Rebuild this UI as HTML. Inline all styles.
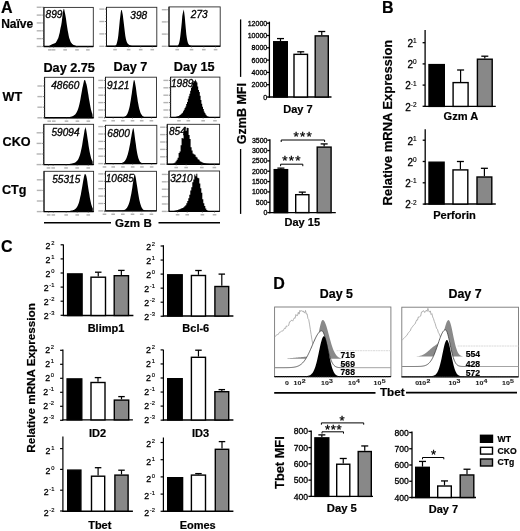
<!DOCTYPE html>
<html><head><meta charset="utf-8"><style>
html,body{margin:0;padding:0;background:#fff;}
svg{display:block;filter:blur(0.35px);}
</style></head><body>
<svg width="520" height="531" viewBox="0 0 520 531">
<rect width="520" height="531" fill="#fff"/>
<g font-family='"Liberation Sans", sans-serif' stroke="none">
<text x="1.00" y="13.00" font-size="16" font-weight="bold" font-style="normal" text-anchor="start" fill="#000" stroke="#000" stroke-width="0.2" >A</text>
<text x="1.20" y="28.40" font-size="12" font-weight="bold" font-style="normal" text-anchor="start" fill="#000" stroke="#000" stroke-width="0.2" >Na&#239;ve</text>
<text x="2.50" y="100.70" font-size="12.6" font-weight="bold" font-style="normal" text-anchor="start" fill="#000" stroke="#000" stroke-width="0.2" >WT</text>
<text x="2.60" y="145.70" font-size="12.6" font-weight="bold" font-style="normal" text-anchor="start" fill="#000" stroke="#000" stroke-width="0.2" >CKO</text>
<text x="2.00" y="194.30" font-size="12.6" font-weight="bold" font-style="normal" text-anchor="start" fill="#000" stroke="#000" stroke-width="0.2" >CTg</text>
<text x="69.20" y="71.60" font-size="12.7" font-weight="bold" font-style="normal" text-anchor="middle" fill="#000" stroke="#000" stroke-width="0.2" >Day 2.75</text>
<text x="130.50" y="71.40" font-size="12.7" font-weight="bold" font-style="normal" text-anchor="middle" fill="#000" stroke="#000" stroke-width="0.2" >Day 7</text>
<text x="194.20" y="71.40" font-size="12.7" font-weight="bold" font-style="normal" text-anchor="middle" fill="#000" stroke="#000" stroke-width="0.2" >Day 15</text>
<path d="M44.70,46.50 L44.70,46.45 L45.20,46.44 L45.70,46.43 L46.20,46.41 L46.70,46.37 L47.20,46.33 L47.70,46.27 L48.20,46.17 L48.70,46.04 L49.20,45.86 L49.70,45.63 L50.20,45.37 L50.70,45.07 L51.20,44.76 L51.70,44.51 L52.20,44.15 L52.70,43.95 L53.20,43.85 L53.70,43.66 L54.20,43.50 L54.70,43.24 L55.20,42.90 L55.70,42.63 L56.20,42.09 L56.70,41.12 L57.20,40.34 L57.70,39.11 L58.20,38.17 L58.70,36.43 L59.20,34.47 L59.70,32.82 L60.20,29.84 L60.70,27.20 L61.20,25.34 L61.70,22.20 L62.20,17.90 L62.70,13.42 L63.20,10.82 L63.70,8.80 L64.20,9.30 L64.70,12.07 L65.20,14.26 L65.70,16.93 L66.20,20.19 L66.70,23.98 L67.20,27.29 L67.70,30.40 L68.20,33.01 L68.70,35.63 L69.20,37.88 L69.70,39.25 L70.20,40.80 L70.70,41.89 L71.20,42.86 L71.70,43.35 L72.20,43.88 L72.70,44.37 L73.20,44.63 L73.70,44.90 L74.20,45.14 L74.70,45.37 L75.20,45.57 L75.70,45.76 L76.20,45.93 L76.70,46.08 L77.20,46.20 L77.70,46.29 L78.20,46.36 L78.70,46.41 L79.20,46.44 L79.70,46.47 L80.20,46.48 L80.70,46.49 L81.20,46.49 L81.70,46.50 L82.20,46.50 L82.70,46.50 L83.20,46.50 L83.70,46.50 L84.20,46.50 L84.70,46.50 L85.20,46.50 L85.70,46.50 L86.20,46.50 L86.70,46.50 L87.20,46.50 L87.70,46.50 L88.20,46.50 L88.70,46.50 L89.20,46.50 L89.70,46.50 L90.20,46.50 L90.70,46.50 L91.20,46.50 L91.70,46.50 L92.20,46.50 L92.50,46.50 Z" fill="#000" stroke="none" stroke-width="0" />
<rect x="43.90" y="7.40" width="49.40" height="39.10" fill="none" stroke="#2a2a2a" stroke-width="0.9"/>
<line x1="43.90" y1="7.40" x2="43.90" y2="46.50" stroke="#111" stroke-width="1.0" />
<line x1="43.60" y1="46.50" x2="93.30" y2="46.50" stroke="#000" stroke-width="1.4" />
<line x1="42.30" y1="46.50" x2="43.90" y2="46.50" stroke="#444" stroke-width="0.7" />
<rect x="36.70" y="45.80" width="5.00" height="1.40" fill="#b4b4b4" stroke="none" stroke-width="0"/>
<line x1="42.30" y1="38.65" x2="43.90" y2="38.65" stroke="#444" stroke-width="0.7" />
<rect x="36.70" y="37.95" width="5.00" height="1.40" fill="#b4b4b4" stroke="none" stroke-width="0"/>
<line x1="42.30" y1="30.80" x2="43.90" y2="30.80" stroke="#444" stroke-width="0.7" />
<rect x="36.70" y="30.10" width="5.00" height="1.40" fill="#b4b4b4" stroke="none" stroke-width="0"/>
<line x1="42.30" y1="22.95" x2="43.90" y2="22.95" stroke="#444" stroke-width="0.7" />
<rect x="36.70" y="22.25" width="5.00" height="1.40" fill="#b4b4b4" stroke="none" stroke-width="0"/>
<line x1="42.30" y1="15.10" x2="43.90" y2="15.10" stroke="#444" stroke-width="0.7" />
<rect x="36.70" y="14.40" width="5.00" height="1.40" fill="#b4b4b4" stroke="none" stroke-width="0"/>
<line x1="42.30" y1="7.25" x2="43.90" y2="7.25" stroke="#444" stroke-width="0.7" />
<rect x="36.70" y="6.55" width="5.00" height="1.40" fill="#b4b4b4" stroke="none" stroke-width="0"/>
<line x1="43.00" y1="46.50" x2="43.90" y2="46.50" stroke="#666" stroke-width="0.5" />
<line x1="43.00" y1="44.54" x2="43.90" y2="44.54" stroke="#666" stroke-width="0.5" />
<line x1="43.00" y1="42.58" x2="43.90" y2="42.58" stroke="#666" stroke-width="0.5" />
<line x1="43.00" y1="40.61" x2="43.90" y2="40.61" stroke="#666" stroke-width="0.5" />
<line x1="43.00" y1="38.65" x2="43.90" y2="38.65" stroke="#666" stroke-width="0.5" />
<line x1="43.00" y1="36.69" x2="43.90" y2="36.69" stroke="#666" stroke-width="0.5" />
<line x1="43.00" y1="34.73" x2="43.90" y2="34.73" stroke="#666" stroke-width="0.5" />
<line x1="43.00" y1="32.76" x2="43.90" y2="32.76" stroke="#666" stroke-width="0.5" />
<line x1="43.00" y1="30.80" x2="43.90" y2="30.80" stroke="#666" stroke-width="0.5" />
<line x1="43.00" y1="28.84" x2="43.90" y2="28.84" stroke="#666" stroke-width="0.5" />
<line x1="43.00" y1="26.88" x2="43.90" y2="26.88" stroke="#666" stroke-width="0.5" />
<line x1="43.00" y1="24.91" x2="43.90" y2="24.91" stroke="#666" stroke-width="0.5" />
<line x1="43.00" y1="22.95" x2="43.90" y2="22.95" stroke="#666" stroke-width="0.5" />
<line x1="43.00" y1="20.99" x2="43.90" y2="20.99" stroke="#666" stroke-width="0.5" />
<line x1="43.00" y1="19.03" x2="43.90" y2="19.03" stroke="#666" stroke-width="0.5" />
<line x1="43.00" y1="17.06" x2="43.90" y2="17.06" stroke="#666" stroke-width="0.5" />
<line x1="43.00" y1="15.10" x2="43.90" y2="15.10" stroke="#666" stroke-width="0.5" />
<line x1="43.00" y1="13.14" x2="43.90" y2="13.14" stroke="#666" stroke-width="0.5" />
<line x1="43.00" y1="11.18" x2="43.90" y2="11.18" stroke="#666" stroke-width="0.5" />
<line x1="43.00" y1="9.21" x2="43.90" y2="9.21" stroke="#666" stroke-width="0.5" />
<line x1="49.83" y1="46.50" x2="49.83" y2="47.80" stroke="#555" stroke-width="0.6" />
<rect x="48.03" y="49.10" width="3.60" height="1.50" fill="#b4b4b4" stroke="none" stroke-width="0"/>
<line x1="53.58" y1="46.50" x2="53.58" y2="47.80" stroke="#555" stroke-width="0.6" />
<rect x="51.78" y="49.10" width="3.60" height="1.50" fill="#b4b4b4" stroke="none" stroke-width="0"/>
<line x1="65.14" y1="46.50" x2="65.14" y2="47.80" stroke="#555" stroke-width="0.6" />
<rect x="63.34" y="49.10" width="3.60" height="1.50" fill="#b4b4b4" stroke="none" stroke-width="0"/>
<line x1="77.00" y1="46.50" x2="77.00" y2="47.80" stroke="#555" stroke-width="0.6" />
<rect x="75.20" y="49.10" width="3.60" height="1.50" fill="#b4b4b4" stroke="none" stroke-width="0"/>
<line x1="87.87" y1="46.50" x2="87.87" y2="47.80" stroke="#555" stroke-width="0.6" />
<rect x="86.07" y="49.10" width="3.60" height="1.50" fill="#b4b4b4" stroke="none" stroke-width="0"/>
<text x="45.60" y="18.40" font-size="10.1" font-weight="normal" font-style="italic" text-anchor="start" fill="#000" stroke="#000" stroke-width="0.3" >899</text>
<path d="M107.30,46.30 L107.30,46.30 L107.80,46.30 L108.30,46.30 L108.80,46.30 L109.30,46.30 L109.80,46.30 L110.30,46.30 L110.80,46.30 L111.30,46.30 L111.80,46.30 L112.30,46.30 L112.80,46.29 L113.30,46.28 L113.80,46.26 L114.30,46.20 L114.80,46.08 L115.30,45.84 L115.80,45.40 L116.30,44.63 L116.80,43.30 L117.30,41.35 L117.80,38.96 L118.30,35.43 L118.80,30.40 L119.30,25.41 L119.80,20.29 L120.30,16.22 L120.80,12.05 L121.30,10.06 L121.80,10.00 L122.30,12.51 L122.80,15.02 L123.30,19.15 L123.80,23.23 L124.30,27.53 L124.80,31.82 L125.30,35.65 L125.80,38.45 L126.30,40.55 L126.80,42.06 L127.30,43.07 L127.80,43.70 L128.30,44.24 L128.80,44.61 L129.30,44.92 L129.80,45.18 L130.30,45.40 L130.80,45.59 L131.30,45.75 L131.80,45.88 L132.30,45.98 L132.80,46.07 L133.30,46.13 L133.80,46.18 L134.30,46.22 L134.80,46.24 L135.30,46.26 L135.80,46.28 L136.30,46.28 L136.80,46.29 L137.30,46.29 L137.80,46.30 L138.30,46.30 L138.80,46.30 L139.30,46.30 L139.80,46.30 L140.30,46.30 L140.80,46.30 L141.30,46.30 L141.80,46.30 L142.30,46.30 L142.80,46.30 L143.30,46.30 L143.80,46.30 L144.30,46.30 L144.80,46.30 L145.30,46.30 L145.80,46.30 L146.30,46.30 L146.80,46.30 L147.30,46.30 L147.80,46.30 L148.30,46.30 L148.80,46.30 L149.30,46.30 L149.80,46.30 L150.30,46.30 L150.80,46.30 L151.30,46.30 L151.80,46.30 L152.30,46.30 L152.80,46.30 L153.30,46.30 L153.80,46.30 L154.30,46.30 L154.80,46.30 L155.30,46.30 L155.80,46.30 L156.00,46.30 Z" fill="#000" stroke="none" stroke-width="0" />
<rect x="106.50" y="7.30" width="50.30" height="39.00" fill="none" stroke="#2a2a2a" stroke-width="0.9"/>
<line x1="106.50" y1="7.30" x2="106.50" y2="46.30" stroke="#111" stroke-width="1.0" />
<line x1="106.20" y1="46.30" x2="156.80" y2="46.30" stroke="#000" stroke-width="1.4" />
<line x1="104.90" y1="46.30" x2="106.50" y2="46.30" stroke="#444" stroke-width="0.7" />
<rect x="99.30" y="45.60" width="5.00" height="1.40" fill="#b4b4b4" stroke="none" stroke-width="0"/>
<line x1="104.90" y1="33.90" x2="106.50" y2="33.90" stroke="#444" stroke-width="0.7" />
<rect x="99.30" y="33.20" width="5.00" height="1.40" fill="#b4b4b4" stroke="none" stroke-width="0"/>
<line x1="104.90" y1="21.50" x2="106.50" y2="21.50" stroke="#444" stroke-width="0.7" />
<rect x="99.30" y="20.80" width="5.00" height="1.40" fill="#b4b4b4" stroke="none" stroke-width="0"/>
<line x1="104.90" y1="9.10" x2="106.50" y2="9.10" stroke="#444" stroke-width="0.7" />
<rect x="99.30" y="8.40" width="5.00" height="1.40" fill="#b4b4b4" stroke="none" stroke-width="0"/>
<line x1="105.60" y1="46.30" x2="106.50" y2="46.30" stroke="#666" stroke-width="0.5" />
<line x1="105.60" y1="43.20" x2="106.50" y2="43.20" stroke="#666" stroke-width="0.5" />
<line x1="105.60" y1="40.10" x2="106.50" y2="40.10" stroke="#666" stroke-width="0.5" />
<line x1="105.60" y1="37.00" x2="106.50" y2="37.00" stroke="#666" stroke-width="0.5" />
<line x1="105.60" y1="33.90" x2="106.50" y2="33.90" stroke="#666" stroke-width="0.5" />
<line x1="105.60" y1="30.80" x2="106.50" y2="30.80" stroke="#666" stroke-width="0.5" />
<line x1="105.60" y1="27.70" x2="106.50" y2="27.70" stroke="#666" stroke-width="0.5" />
<line x1="105.60" y1="24.60" x2="106.50" y2="24.60" stroke="#666" stroke-width="0.5" />
<line x1="105.60" y1="21.50" x2="106.50" y2="21.50" stroke="#666" stroke-width="0.5" />
<line x1="105.60" y1="18.40" x2="106.50" y2="18.40" stroke="#666" stroke-width="0.5" />
<line x1="105.60" y1="15.30" x2="106.50" y2="15.30" stroke="#666" stroke-width="0.5" />
<line x1="105.60" y1="12.20" x2="106.50" y2="12.20" stroke="#666" stroke-width="0.5" />
<line x1="105.60" y1="9.10" x2="106.50" y2="9.10" stroke="#666" stroke-width="0.5" />
<line x1="115.05" y1="46.30" x2="115.05" y2="47.60" stroke="#555" stroke-width="0.6" />
<rect x="113.25" y="48.90" width="3.60" height="1.50" fill="#b4b4b4" stroke="none" stroke-width="0"/>
<line x1="128.63" y1="46.30" x2="128.63" y2="47.60" stroke="#555" stroke-width="0.6" />
<rect x="126.83" y="48.90" width="3.60" height="1.50" fill="#b4b4b4" stroke="none" stroke-width="0"/>
<line x1="140.70" y1="46.30" x2="140.70" y2="47.60" stroke="#555" stroke-width="0.6" />
<rect x="138.90" y="48.90" width="3.60" height="1.50" fill="#b4b4b4" stroke="none" stroke-width="0"/>
<line x1="152.27" y1="46.30" x2="152.27" y2="47.60" stroke="#555" stroke-width="0.6" />
<rect x="150.47" y="48.90" width="3.60" height="1.50" fill="#b4b4b4" stroke="none" stroke-width="0"/>
<text x="130.30" y="19.40" font-size="10.1" font-weight="normal" font-style="italic" text-anchor="start" fill="#000" stroke="#000" stroke-width="0.3" >398</text>
<path d="M169.80,46.30 L169.80,46.30 L170.30,46.30 L170.80,46.30 L171.30,46.30 L171.80,46.30 L172.30,46.30 L172.80,46.30 L173.30,46.30 L173.80,46.30 L174.30,46.30 L174.80,46.30 L175.30,46.29 L175.80,46.27 L176.30,46.24 L176.80,46.15 L177.30,45.99 L177.80,45.66 L178.30,45.05 L178.80,44.04 L179.30,42.31 L179.80,39.87 L180.30,36.30 L180.80,31.85 L181.30,27.34 L181.80,22.19 L182.30,15.88 L182.80,13.13 L183.30,11.13 L183.80,9.60 L184.30,13.31 L184.80,17.21 L185.30,23.37 L185.80,28.82 L186.30,34.20 L186.80,37.80 L187.30,40.57 L187.80,42.57 L188.30,43.73 L188.80,44.49 L189.30,44.98 L189.80,45.30 L190.30,45.53 L190.80,45.71 L191.30,45.86 L191.80,45.98 L192.30,46.07 L192.80,46.14 L193.30,46.19 L193.80,46.23 L194.30,46.25 L194.80,46.27 L195.30,46.28 L195.80,46.29 L196.30,46.29 L196.80,46.30 L197.30,46.30 L197.80,46.30 L198.30,46.30 L198.80,46.30 L199.30,46.30 L199.80,46.30 L200.30,46.30 L200.80,46.30 L201.30,46.30 L201.80,46.30 L202.30,46.30 L202.80,46.30 L203.30,46.30 L203.80,46.30 L204.30,46.30 L204.80,46.30 L205.30,46.30 L205.80,46.30 L206.30,46.30 L206.80,46.30 L207.30,46.30 L207.80,46.30 L208.30,46.30 L208.80,46.30 L209.30,46.30 L209.80,46.30 L210.30,46.30 L210.80,46.30 L211.30,46.30 L211.80,46.30 L212.30,46.30 L212.80,46.30 L213.30,46.30 L213.80,46.30 L214.30,46.30 L214.80,46.30 L215.30,46.30 L215.80,46.30 L216.30,46.30 L216.80,46.30 L217.30,46.30 L217.80,46.30 L218.30,46.30 L218.80,46.30 L219.30,46.30 L219.40,46.30 Z" fill="#000" stroke="none" stroke-width="0" />
<rect x="169.00" y="6.90" width="51.20" height="39.40" fill="none" stroke="#2a2a2a" stroke-width="0.9"/>
<line x1="169.00" y1="6.90" x2="169.00" y2="46.30" stroke="#111" stroke-width="1.0" />
<line x1="168.70" y1="46.30" x2="220.20" y2="46.30" stroke="#000" stroke-width="1.4" />
<line x1="167.40" y1="46.30" x2="169.00" y2="46.30" stroke="#444" stroke-width="0.7" />
<rect x="161.80" y="45.60" width="5.00" height="1.40" fill="#b4b4b4" stroke="none" stroke-width="0"/>
<line x1="167.40" y1="34.10" x2="169.00" y2="34.10" stroke="#444" stroke-width="0.7" />
<rect x="161.80" y="33.40" width="5.00" height="1.40" fill="#b4b4b4" stroke="none" stroke-width="0"/>
<line x1="167.40" y1="21.90" x2="169.00" y2="21.90" stroke="#444" stroke-width="0.7" />
<rect x="161.80" y="21.20" width="5.00" height="1.40" fill="#b4b4b4" stroke="none" stroke-width="0"/>
<line x1="167.40" y1="9.70" x2="169.00" y2="9.70" stroke="#444" stroke-width="0.7" />
<rect x="161.80" y="9.00" width="5.00" height="1.40" fill="#b4b4b4" stroke="none" stroke-width="0"/>
<line x1="168.10" y1="46.30" x2="169.00" y2="46.30" stroke="#666" stroke-width="0.5" />
<line x1="168.10" y1="43.25" x2="169.00" y2="43.25" stroke="#666" stroke-width="0.5" />
<line x1="168.10" y1="40.20" x2="169.00" y2="40.20" stroke="#666" stroke-width="0.5" />
<line x1="168.10" y1="37.15" x2="169.00" y2="37.15" stroke="#666" stroke-width="0.5" />
<line x1="168.10" y1="34.10" x2="169.00" y2="34.10" stroke="#666" stroke-width="0.5" />
<line x1="168.10" y1="31.05" x2="169.00" y2="31.05" stroke="#666" stroke-width="0.5" />
<line x1="168.10" y1="28.00" x2="169.00" y2="28.00" stroke="#666" stroke-width="0.5" />
<line x1="168.10" y1="24.95" x2="169.00" y2="24.95" stroke="#666" stroke-width="0.5" />
<line x1="168.10" y1="21.90" x2="169.00" y2="21.90" stroke="#666" stroke-width="0.5" />
<line x1="168.10" y1="18.85" x2="169.00" y2="18.85" stroke="#666" stroke-width="0.5" />
<line x1="168.10" y1="15.80" x2="169.00" y2="15.80" stroke="#666" stroke-width="0.5" />
<line x1="168.10" y1="12.75" x2="169.00" y2="12.75" stroke="#666" stroke-width="0.5" />
<line x1="168.10" y1="9.70" x2="169.00" y2="9.70" stroke="#666" stroke-width="0.5" />
<line x1="177.19" y1="46.30" x2="177.19" y2="47.60" stroke="#555" stroke-width="0.6" />
<rect x="175.39" y="48.90" width="3.60" height="1.50" fill="#b4b4b4" stroke="none" stroke-width="0"/>
<line x1="191.53" y1="46.30" x2="191.53" y2="47.60" stroke="#555" stroke-width="0.6" />
<rect x="189.73" y="48.90" width="3.60" height="1.50" fill="#b4b4b4" stroke="none" stroke-width="0"/>
<line x1="203.82" y1="46.30" x2="203.82" y2="47.60" stroke="#555" stroke-width="0.6" />
<rect x="202.02" y="48.90" width="3.60" height="1.50" fill="#b4b4b4" stroke="none" stroke-width="0"/>
<line x1="215.59" y1="46.30" x2="215.59" y2="47.60" stroke="#555" stroke-width="0.6" />
<rect x="213.79" y="48.90" width="3.60" height="1.50" fill="#b4b4b4" stroke="none" stroke-width="0"/>
<text x="190.80" y="18.30" font-size="10.1" font-weight="normal" font-style="italic" text-anchor="start" fill="#000" stroke="#000" stroke-width="0.3" >273</text>
<path d="M45.40,117.80 L45.40,117.80 L45.90,117.80 L46.40,117.80 L46.90,117.80 L47.40,117.80 L47.90,117.80 L48.40,117.80 L48.90,117.80 L49.40,117.80 L49.90,117.80 L50.40,117.80 L50.90,117.80 L51.40,117.80 L51.90,117.80 L52.40,117.80 L52.90,117.80 L53.40,117.80 L53.90,117.80 L54.40,117.80 L54.90,117.80 L55.40,117.80 L55.90,117.80 L56.40,117.80 L56.90,117.80 L57.40,117.80 L57.90,117.79 L58.40,117.79 L58.90,117.79 L59.40,117.78 L59.90,117.78 L60.40,117.77 L60.90,117.76 L61.40,117.75 L61.90,117.74 L62.40,117.72 L62.90,117.70 L63.40,117.68 L63.90,117.65 L64.40,117.62 L64.90,117.58 L65.40,117.54 L65.90,117.49 L66.40,117.44 L66.90,117.37 L67.40,117.31 L67.90,117.24 L68.40,117.16 L68.90,117.07 L69.40,116.98 L69.90,116.88 L70.40,116.77 L70.90,116.66 L71.40,116.52 L71.90,116.38 L72.40,116.20 L72.90,116.00 L73.40,115.78 L73.90,115.50 L74.40,115.12 L74.90,114.72 L75.40,114.22 L75.90,113.55 L76.40,112.71 L76.90,111.80 L77.40,110.69 L77.90,109.50 L78.40,107.89 L78.90,106.21 L79.40,104.26 L79.90,102.07 L80.40,99.58 L80.90,96.51 L81.40,93.76 L81.90,90.90 L82.40,88.07 L82.90,85.96 L83.40,83.49 L83.90,81.27 L84.40,80.05 L84.90,80.00 L85.40,80.63 L85.90,82.72 L86.40,83.95 L86.90,86.16 L87.40,88.99 L87.90,92.20 L88.40,95.09 L88.90,98.46 L89.40,101.07 L89.90,104.02 L90.40,106.77 L90.90,109.15 L91.40,110.99 L91.90,112.71 L92.40,114.00 L92.80,117.80 Z" fill="#000" stroke="none" stroke-width="0" />
<rect x="44.60" y="77.30" width="49.00" height="40.50" fill="none" stroke="#2a2a2a" stroke-width="0.9"/>
<line x1="44.60" y1="77.30" x2="44.60" y2="117.80" stroke="#111" stroke-width="1.0" />
<line x1="44.30" y1="117.80" x2="93.60" y2="117.80" stroke="#000" stroke-width="1.4" />
<line x1="43.00" y1="117.80" x2="44.60" y2="117.80" stroke="#444" stroke-width="0.7" />
<rect x="37.40" y="117.10" width="5.00" height="1.40" fill="#b4b4b4" stroke="none" stroke-width="0"/>
<line x1="43.00" y1="107.20" x2="44.60" y2="107.20" stroke="#444" stroke-width="0.7" />
<rect x="37.40" y="106.50" width="5.00" height="1.40" fill="#b4b4b4" stroke="none" stroke-width="0"/>
<line x1="43.00" y1="96.60" x2="44.60" y2="96.60" stroke="#444" stroke-width="0.7" />
<rect x="37.40" y="95.90" width="5.00" height="1.40" fill="#b4b4b4" stroke="none" stroke-width="0"/>
<line x1="43.00" y1="86.00" x2="44.60" y2="86.00" stroke="#444" stroke-width="0.7" />
<rect x="37.40" y="85.30" width="5.00" height="1.40" fill="#b4b4b4" stroke="none" stroke-width="0"/>
<line x1="43.70" y1="117.80" x2="44.60" y2="117.80" stroke="#666" stroke-width="0.5" />
<line x1="43.70" y1="115.15" x2="44.60" y2="115.15" stroke="#666" stroke-width="0.5" />
<line x1="43.70" y1="112.50" x2="44.60" y2="112.50" stroke="#666" stroke-width="0.5" />
<line x1="43.70" y1="109.85" x2="44.60" y2="109.85" stroke="#666" stroke-width="0.5" />
<line x1="43.70" y1="107.20" x2="44.60" y2="107.20" stroke="#666" stroke-width="0.5" />
<line x1="43.70" y1="104.55" x2="44.60" y2="104.55" stroke="#666" stroke-width="0.5" />
<line x1="43.70" y1="101.90" x2="44.60" y2="101.90" stroke="#666" stroke-width="0.5" />
<line x1="43.70" y1="99.25" x2="44.60" y2="99.25" stroke="#666" stroke-width="0.5" />
<line x1="43.70" y1="96.60" x2="44.60" y2="96.60" stroke="#666" stroke-width="0.5" />
<line x1="43.70" y1="93.95" x2="44.60" y2="93.95" stroke="#666" stroke-width="0.5" />
<line x1="43.70" y1="91.30" x2="44.60" y2="91.30" stroke="#666" stroke-width="0.5" />
<line x1="43.70" y1="88.65" x2="44.60" y2="88.65" stroke="#666" stroke-width="0.5" />
<line x1="43.70" y1="86.00" x2="44.60" y2="86.00" stroke="#666" stroke-width="0.5" />
<line x1="43.70" y1="83.35" x2="44.60" y2="83.35" stroke="#666" stroke-width="0.5" />
<line x1="43.70" y1="80.70" x2="44.60" y2="80.70" stroke="#666" stroke-width="0.5" />
<line x1="43.70" y1="78.05" x2="44.60" y2="78.05" stroke="#666" stroke-width="0.5" />
<line x1="49.21" y1="117.80" x2="49.21" y2="119.10" stroke="#555" stroke-width="0.6" />
<rect x="47.41" y="120.40" width="3.60" height="1.50" fill="#b4b4b4" stroke="none" stroke-width="0"/>
<line x1="53.81" y1="117.80" x2="53.81" y2="119.10" stroke="#555" stroke-width="0.6" />
<rect x="52.01" y="120.40" width="3.60" height="1.50" fill="#b4b4b4" stroke="none" stroke-width="0"/>
<line x1="66.50" y1="117.80" x2="66.50" y2="119.10" stroke="#555" stroke-width="0.6" />
<rect x="64.70" y="120.40" width="3.60" height="1.50" fill="#b4b4b4" stroke="none" stroke-width="0"/>
<line x1="77.43" y1="117.80" x2="77.43" y2="119.10" stroke="#555" stroke-width="0.6" />
<rect x="75.63" y="120.40" width="3.60" height="1.50" fill="#b4b4b4" stroke="none" stroke-width="0"/>
<line x1="88.36" y1="117.80" x2="88.36" y2="119.10" stroke="#555" stroke-width="0.6" />
<rect x="86.56" y="120.40" width="3.60" height="1.50" fill="#b4b4b4" stroke="none" stroke-width="0"/>
<text x="51.20" y="88.50" font-size="10.1" font-weight="normal" font-style="italic" text-anchor="start" fill="#000" stroke="#000" stroke-width="0.3" >48660</text>
<path d="M106.30,117.40 L106.30,117.40 L106.80,117.40 L107.30,117.40 L107.80,117.40 L108.30,117.40 L108.80,117.40 L109.30,117.40 L109.80,117.40 L110.30,117.40 L110.80,117.40 L111.30,117.40 L111.80,117.40 L112.30,117.40 L112.80,117.40 L113.30,117.40 L113.80,117.40 L114.30,117.40 L114.80,117.40 L115.30,117.40 L115.80,117.40 L116.30,117.40 L116.80,117.40 L117.30,117.40 L117.80,117.40 L118.30,117.40 L118.80,117.39 L119.30,117.39 L119.80,117.38 L120.30,117.37 L120.80,117.36 L121.30,117.34 L121.80,117.31 L122.30,117.27 L122.80,117.21 L123.30,117.13 L123.80,117.02 L124.30,116.86 L124.80,116.64 L125.30,116.35 L125.80,115.97 L126.30,115.45 L126.80,114.78 L127.30,113.92 L127.80,112.83 L128.30,111.52 L128.80,109.84 L129.30,108.12 L129.80,105.70 L130.30,102.83 L130.80,99.93 L131.30,96.44 L131.80,93.42 L132.30,89.52 L132.80,86.18 L133.30,82.69 L133.80,80.15 L134.30,79.90 L134.80,81.43 L135.30,84.18 L135.80,86.96 L136.30,90.75 L136.80,94.81 L137.30,97.87 L137.80,101.43 L138.30,104.08 L138.80,106.77 L139.30,108.94 L139.80,110.55 L140.30,112.17 L140.80,113.38 L141.30,114.27 L141.80,115.06 L142.30,115.68 L142.80,116.13 L143.30,116.48 L143.80,116.74 L144.30,116.93 L144.80,117.07 L145.30,117.17 L145.80,117.24 L146.30,117.29 L146.80,117.32 L147.30,117.35 L147.80,117.37 L148.30,117.38 L148.80,117.39 L149.30,117.39 L149.80,117.39 L150.30,117.40 L150.80,117.40 L151.30,117.40 L151.80,117.40 L152.30,117.40 L152.80,117.40 L153.30,117.40 L153.80,117.40 L154.30,117.40 L154.80,117.40 L155.30,117.40 L155.70,117.40 Z" fill="#000" stroke="none" stroke-width="0" />
<rect x="105.50" y="77.20" width="51.00" height="40.20" fill="none" stroke="#2a2a2a" stroke-width="0.9"/>
<line x1="105.50" y1="77.20" x2="105.50" y2="117.40" stroke="#111" stroke-width="1.0" />
<line x1="105.20" y1="117.40" x2="156.50" y2="117.40" stroke="#000" stroke-width="1.4" />
<line x1="103.90" y1="117.40" x2="105.50" y2="117.40" stroke="#444" stroke-width="0.7" />
<rect x="98.30" y="116.70" width="5.00" height="1.40" fill="#b4b4b4" stroke="none" stroke-width="0"/>
<line x1="103.90" y1="110.00" x2="105.50" y2="110.00" stroke="#444" stroke-width="0.7" />
<rect x="98.30" y="109.30" width="5.00" height="1.40" fill="#b4b4b4" stroke="none" stroke-width="0"/>
<line x1="103.90" y1="102.60" x2="105.50" y2="102.60" stroke="#444" stroke-width="0.7" />
<rect x="98.30" y="101.90" width="5.00" height="1.40" fill="#b4b4b4" stroke="none" stroke-width="0"/>
<line x1="103.90" y1="95.20" x2="105.50" y2="95.20" stroke="#444" stroke-width="0.7" />
<rect x="98.30" y="94.50" width="5.00" height="1.40" fill="#b4b4b4" stroke="none" stroke-width="0"/>
<line x1="103.90" y1="87.80" x2="105.50" y2="87.80" stroke="#444" stroke-width="0.7" />
<rect x="98.30" y="87.10" width="5.00" height="1.40" fill="#b4b4b4" stroke="none" stroke-width="0"/>
<line x1="103.90" y1="80.40" x2="105.50" y2="80.40" stroke="#444" stroke-width="0.7" />
<rect x="98.30" y="79.70" width="5.00" height="1.40" fill="#b4b4b4" stroke="none" stroke-width="0"/>
<line x1="104.60" y1="117.40" x2="105.50" y2="117.40" stroke="#666" stroke-width="0.5" />
<line x1="104.60" y1="115.55" x2="105.50" y2="115.55" stroke="#666" stroke-width="0.5" />
<line x1="104.60" y1="113.70" x2="105.50" y2="113.70" stroke="#666" stroke-width="0.5" />
<line x1="104.60" y1="111.85" x2="105.50" y2="111.85" stroke="#666" stroke-width="0.5" />
<line x1="104.60" y1="110.00" x2="105.50" y2="110.00" stroke="#666" stroke-width="0.5" />
<line x1="104.60" y1="108.15" x2="105.50" y2="108.15" stroke="#666" stroke-width="0.5" />
<line x1="104.60" y1="106.30" x2="105.50" y2="106.30" stroke="#666" stroke-width="0.5" />
<line x1="104.60" y1="104.45" x2="105.50" y2="104.45" stroke="#666" stroke-width="0.5" />
<line x1="104.60" y1="102.60" x2="105.50" y2="102.60" stroke="#666" stroke-width="0.5" />
<line x1="104.60" y1="100.75" x2="105.50" y2="100.75" stroke="#666" stroke-width="0.5" />
<line x1="104.60" y1="98.90" x2="105.50" y2="98.90" stroke="#666" stroke-width="0.5" />
<line x1="104.60" y1="97.05" x2="105.50" y2="97.05" stroke="#666" stroke-width="0.5" />
<line x1="104.60" y1="95.20" x2="105.50" y2="95.20" stroke="#666" stroke-width="0.5" />
<line x1="104.60" y1="93.35" x2="105.50" y2="93.35" stroke="#666" stroke-width="0.5" />
<line x1="104.60" y1="91.50" x2="105.50" y2="91.50" stroke="#666" stroke-width="0.5" />
<line x1="104.60" y1="89.65" x2="105.50" y2="89.65" stroke="#666" stroke-width="0.5" />
<line x1="104.60" y1="87.80" x2="105.50" y2="87.80" stroke="#666" stroke-width="0.5" />
<line x1="104.60" y1="85.95" x2="105.50" y2="85.95" stroke="#666" stroke-width="0.5" />
<line x1="104.60" y1="84.10" x2="105.50" y2="84.10" stroke="#666" stroke-width="0.5" />
<line x1="104.60" y1="82.25" x2="105.50" y2="82.25" stroke="#666" stroke-width="0.5" />
<line x1="104.60" y1="80.40" x2="105.50" y2="80.40" stroke="#666" stroke-width="0.5" />
<line x1="104.60" y1="78.55" x2="105.50" y2="78.55" stroke="#666" stroke-width="0.5" />
<line x1="104.48" y1="117.40" x2="104.48" y2="118.70" stroke="#555" stroke-width="0.6" />
<rect x="102.68" y="120.00" width="3.60" height="1.50" fill="#b4b4b4" stroke="none" stroke-width="0"/>
<line x1="113.15" y1="117.40" x2="113.15" y2="118.70" stroke="#555" stroke-width="0.6" />
<rect x="111.35" y="120.00" width="3.60" height="1.50" fill="#b4b4b4" stroke="none" stroke-width="0"/>
<line x1="122.84" y1="117.40" x2="122.84" y2="118.70" stroke="#555" stroke-width="0.6" />
<rect x="121.04" y="120.00" width="3.60" height="1.50" fill="#b4b4b4" stroke="none" stroke-width="0"/>
<line x1="132.53" y1="117.40" x2="132.53" y2="118.70" stroke="#555" stroke-width="0.6" />
<rect x="130.73" y="120.00" width="3.60" height="1.50" fill="#b4b4b4" stroke="none" stroke-width="0"/>
<line x1="141.71" y1="117.40" x2="141.71" y2="118.70" stroke="#555" stroke-width="0.6" />
<rect x="139.91" y="120.00" width="3.60" height="1.50" fill="#b4b4b4" stroke="none" stroke-width="0"/>
<line x1="151.40" y1="117.40" x2="151.40" y2="118.70" stroke="#555" stroke-width="0.6" />
<rect x="149.60" y="120.00" width="3.60" height="1.50" fill="#b4b4b4" stroke="none" stroke-width="0"/>
<text x="107.00" y="89.00" font-size="10.1" font-weight="normal" font-style="italic" text-anchor="start" fill="#000" stroke="#000" stroke-width="0.3" >9121</text>
<path d="M171.40,117.40 L171.00,117.32 L171.80,117.32 L171.80,117.28 L172.60,117.28 L172.60,117.23 L173.40,117.23 L173.40,117.17 L174.20,117.17 L174.20,117.08 L175.00,117.08 L175.00,116.96 L175.80,116.96 L175.80,116.80 L176.60,116.80 L176.60,116.60 L177.40,116.60 L177.40,116.33 L178.20,116.33 L178.20,115.99 L179.00,115.99 L179.00,115.51 L179.80,115.51 L179.80,114.94 L180.60,114.94 L180.60,114.33 L181.40,114.33 L181.40,113.56 L182.20,113.56 L182.20,112.68 L183.00,112.68 L183.00,111.19 L183.80,111.19 L183.80,109.87 L184.60,109.87 L184.60,108.00 L185.40,108.00 L185.40,106.41 L186.20,106.41 L186.20,103.88 L187.00,103.88 L187.00,102.09 L187.80,102.09 L187.80,98.80 L188.60,98.80 L188.60,96.13 L189.40,96.13 L189.40,93.85 L190.20,93.85 L190.20,90.76 L191.00,90.76 L191.00,87.64 L191.80,87.64 L191.80,86.28 L192.60,86.28 L192.60,83.11 L193.40,83.11 L193.40,80.66 L194.20,80.66 L194.20,81.25 L195.00,81.25 L195.00,79.80 L195.80,79.80 L195.80,81.13 L196.60,81.13 L196.60,82.51 L197.40,82.51 L197.40,86.40 L198.20,86.40 L198.20,90.03 L199.00,90.03 L199.00,92.03 L199.80,92.03 L199.80,95.80 L200.60,95.80 L200.60,100.05 L201.40,100.05 L201.40,103.87 L202.20,103.87 L202.20,106.77 L203.00,106.77 L203.00,109.09 L203.80,109.09 L203.80,111.48 L204.60,111.48 L204.60,112.97 L205.40,112.97 L205.40,114.44 L206.20,114.44 L206.20,115.49 L207.00,115.49 L207.00,116.14 L207.80,116.14 L207.80,116.61 L208.60,116.61 L208.60,116.92 L209.40,116.92 L209.40,117.12 L210.20,117.12 L210.20,117.24 L211.00,117.24 L211.00,117.31 L211.80,117.31 L211.80,117.35 L212.60,117.35 L212.60,117.38 L213.40,117.38 L213.40,117.39 L214.20,117.39 L214.20,117.39 L215.00,117.39 L215.00,117.40 L215.80,117.40 L215.80,117.40 L216.60,117.40 L216.60,117.40 L217.40,117.40 L217.40,117.40 L218.20,117.40 L218.20,117.40 L219.00,117.40 L219.10,117.40 Z" fill="#000" stroke="none" stroke-width="0" />
<rect x="170.60" y="77.10" width="49.30" height="40.30" fill="none" stroke="#2a2a2a" stroke-width="0.9"/>
<line x1="170.60" y1="77.10" x2="170.60" y2="117.40" stroke="#111" stroke-width="1.0" />
<line x1="170.30" y1="117.40" x2="219.90" y2="117.40" stroke="#000" stroke-width="1.4" />
<line x1="169.00" y1="117.40" x2="170.60" y2="117.40" stroke="#444" stroke-width="0.7" />
<rect x="163.40" y="116.70" width="5.00" height="1.40" fill="#b4b4b4" stroke="none" stroke-width="0"/>
<line x1="169.00" y1="110.00" x2="170.60" y2="110.00" stroke="#444" stroke-width="0.7" />
<rect x="163.40" y="109.30" width="5.00" height="1.40" fill="#b4b4b4" stroke="none" stroke-width="0"/>
<line x1="169.00" y1="102.60" x2="170.60" y2="102.60" stroke="#444" stroke-width="0.7" />
<rect x="163.40" y="101.90" width="5.00" height="1.40" fill="#b4b4b4" stroke="none" stroke-width="0"/>
<line x1="169.00" y1="95.20" x2="170.60" y2="95.20" stroke="#444" stroke-width="0.7" />
<rect x="163.40" y="94.50" width="5.00" height="1.40" fill="#b4b4b4" stroke="none" stroke-width="0"/>
<line x1="169.00" y1="87.80" x2="170.60" y2="87.80" stroke="#444" stroke-width="0.7" />
<rect x="163.40" y="87.10" width="5.00" height="1.40" fill="#b4b4b4" stroke="none" stroke-width="0"/>
<line x1="169.00" y1="80.40" x2="170.60" y2="80.40" stroke="#444" stroke-width="0.7" />
<rect x="163.40" y="79.70" width="5.00" height="1.40" fill="#b4b4b4" stroke="none" stroke-width="0"/>
<line x1="169.70" y1="117.40" x2="170.60" y2="117.40" stroke="#666" stroke-width="0.5" />
<line x1="169.70" y1="115.55" x2="170.60" y2="115.55" stroke="#666" stroke-width="0.5" />
<line x1="169.70" y1="113.70" x2="170.60" y2="113.70" stroke="#666" stroke-width="0.5" />
<line x1="169.70" y1="111.85" x2="170.60" y2="111.85" stroke="#666" stroke-width="0.5" />
<line x1="169.70" y1="110.00" x2="170.60" y2="110.00" stroke="#666" stroke-width="0.5" />
<line x1="169.70" y1="108.15" x2="170.60" y2="108.15" stroke="#666" stroke-width="0.5" />
<line x1="169.70" y1="106.30" x2="170.60" y2="106.30" stroke="#666" stroke-width="0.5" />
<line x1="169.70" y1="104.45" x2="170.60" y2="104.45" stroke="#666" stroke-width="0.5" />
<line x1="169.70" y1="102.60" x2="170.60" y2="102.60" stroke="#666" stroke-width="0.5" />
<line x1="169.70" y1="100.75" x2="170.60" y2="100.75" stroke="#666" stroke-width="0.5" />
<line x1="169.70" y1="98.90" x2="170.60" y2="98.90" stroke="#666" stroke-width="0.5" />
<line x1="169.70" y1="97.05" x2="170.60" y2="97.05" stroke="#666" stroke-width="0.5" />
<line x1="169.70" y1="95.20" x2="170.60" y2="95.20" stroke="#666" stroke-width="0.5" />
<line x1="169.70" y1="93.35" x2="170.60" y2="93.35" stroke="#666" stroke-width="0.5" />
<line x1="169.70" y1="91.50" x2="170.60" y2="91.50" stroke="#666" stroke-width="0.5" />
<line x1="169.70" y1="89.65" x2="170.60" y2="89.65" stroke="#666" stroke-width="0.5" />
<line x1="169.70" y1="87.80" x2="170.60" y2="87.80" stroke="#666" stroke-width="0.5" />
<line x1="169.70" y1="85.95" x2="170.60" y2="85.95" stroke="#666" stroke-width="0.5" />
<line x1="169.70" y1="84.10" x2="170.60" y2="84.10" stroke="#666" stroke-width="0.5" />
<line x1="169.70" y1="82.25" x2="170.60" y2="82.25" stroke="#666" stroke-width="0.5" />
<line x1="169.70" y1="80.40" x2="170.60" y2="80.40" stroke="#666" stroke-width="0.5" />
<line x1="169.70" y1="78.55" x2="170.60" y2="78.55" stroke="#666" stroke-width="0.5" />
<line x1="178.98" y1="117.40" x2="178.98" y2="118.70" stroke="#555" stroke-width="0.6" />
<rect x="177.18" y="120.00" width="3.60" height="1.50" fill="#b4b4b4" stroke="none" stroke-width="0"/>
<line x1="188.35" y1="117.40" x2="188.35" y2="118.70" stroke="#555" stroke-width="0.6" />
<rect x="186.55" y="120.00" width="3.60" height="1.50" fill="#b4b4b4" stroke="none" stroke-width="0"/>
<line x1="203.14" y1="117.40" x2="203.14" y2="118.70" stroke="#555" stroke-width="0.6" />
<rect x="201.34" y="120.00" width="3.60" height="1.50" fill="#b4b4b4" stroke="none" stroke-width="0"/>
<line x1="214.97" y1="117.40" x2="214.97" y2="118.70" stroke="#555" stroke-width="0.6" />
<rect x="213.17" y="120.00" width="3.60" height="1.50" fill="#b4b4b4" stroke="none" stroke-width="0"/>
<text x="171.00" y="86.80" font-size="10.1" font-weight="normal" font-style="italic" text-anchor="start" fill="#000" stroke="#000" stroke-width="0.3" >1989</text>
<path d="M44.60,164.60 L44.60,164.60 L45.10,164.60 L45.60,164.60 L46.10,164.60 L46.60,164.60 L47.10,164.60 L47.60,164.60 L48.10,164.60 L48.60,164.60 L49.10,164.60 L49.60,164.60 L50.10,164.60 L50.60,164.60 L51.10,164.60 L51.60,164.60 L52.10,164.60 L52.60,164.60 L53.10,164.60 L53.60,164.60 L54.10,164.60 L54.60,164.60 L55.10,164.60 L55.60,164.60 L56.10,164.60 L56.60,164.60 L57.10,164.60 L57.60,164.60 L58.10,164.60 L58.60,164.59 L59.10,164.59 L59.60,164.59 L60.10,164.59 L60.60,164.58 L61.10,164.58 L61.60,164.57 L62.10,164.56 L62.60,164.55 L63.10,164.53 L63.60,164.52 L64.10,164.50 L64.60,164.47 L65.10,164.44 L65.60,164.41 L66.10,164.37 L66.60,164.32 L67.10,164.27 L67.60,164.21 L68.10,164.15 L68.60,164.08 L69.10,164.01 L69.60,163.93 L70.10,163.85 L70.60,163.76 L71.10,163.66 L71.60,163.56 L72.10,163.45 L72.60,163.34 L73.10,163.20 L73.60,163.05 L74.10,162.88 L74.60,162.69 L75.10,162.46 L75.60,162.13 L76.10,161.83 L76.60,161.36 L77.10,160.85 L77.60,160.25 L78.10,159.40 L78.60,158.53 L79.10,157.31 L79.60,156.03 L80.10,154.44 L80.60,152.47 L81.10,150.16 L81.60,148.09 L82.10,145.41 L82.60,142.30 L83.10,139.03 L83.60,136.22 L84.10,133.36 L84.60,130.01 L85.10,128.76 L85.60,127.00 L86.10,129.39 L86.60,132.30 L87.10,135.60 L87.60,138.94 L88.10,142.10 L88.60,145.86 L89.10,148.75 L89.60,151.52 L90.10,154.07 L90.60,156.12 L91.10,157.99 L91.60,159.43 L92.10,160.59 L92.60,161.50 L92.80,164.60 Z" fill="#000" stroke="none" stroke-width="0" />
<rect x="43.80" y="124.30" width="49.80" height="40.30" fill="none" stroke="#2a2a2a" stroke-width="0.9"/>
<line x1="43.80" y1="124.30" x2="43.80" y2="164.60" stroke="#111" stroke-width="1.0" />
<line x1="43.50" y1="164.60" x2="93.60" y2="164.60" stroke="#000" stroke-width="1.4" />
<line x1="42.20" y1="164.60" x2="43.80" y2="164.60" stroke="#444" stroke-width="0.7" />
<rect x="36.60" y="163.90" width="5.00" height="1.40" fill="#b4b4b4" stroke="none" stroke-width="0"/>
<line x1="42.20" y1="154.00" x2="43.80" y2="154.00" stroke="#444" stroke-width="0.7" />
<rect x="36.60" y="153.30" width="5.00" height="1.40" fill="#b4b4b4" stroke="none" stroke-width="0"/>
<line x1="42.20" y1="143.40" x2="43.80" y2="143.40" stroke="#444" stroke-width="0.7" />
<rect x="36.60" y="142.70" width="5.00" height="1.40" fill="#b4b4b4" stroke="none" stroke-width="0"/>
<line x1="42.20" y1="132.80" x2="43.80" y2="132.80" stroke="#444" stroke-width="0.7" />
<rect x="36.60" y="132.10" width="5.00" height="1.40" fill="#b4b4b4" stroke="none" stroke-width="0"/>
<line x1="42.90" y1="164.60" x2="43.80" y2="164.60" stroke="#666" stroke-width="0.5" />
<line x1="42.90" y1="161.95" x2="43.80" y2="161.95" stroke="#666" stroke-width="0.5" />
<line x1="42.90" y1="159.30" x2="43.80" y2="159.30" stroke="#666" stroke-width="0.5" />
<line x1="42.90" y1="156.65" x2="43.80" y2="156.65" stroke="#666" stroke-width="0.5" />
<line x1="42.90" y1="154.00" x2="43.80" y2="154.00" stroke="#666" stroke-width="0.5" />
<line x1="42.90" y1="151.35" x2="43.80" y2="151.35" stroke="#666" stroke-width="0.5" />
<line x1="42.90" y1="148.70" x2="43.80" y2="148.70" stroke="#666" stroke-width="0.5" />
<line x1="42.90" y1="146.05" x2="43.80" y2="146.05" stroke="#666" stroke-width="0.5" />
<line x1="42.90" y1="143.40" x2="43.80" y2="143.40" stroke="#666" stroke-width="0.5" />
<line x1="42.90" y1="140.75" x2="43.80" y2="140.75" stroke="#666" stroke-width="0.5" />
<line x1="42.90" y1="138.10" x2="43.80" y2="138.10" stroke="#666" stroke-width="0.5" />
<line x1="42.90" y1="135.45" x2="43.80" y2="135.45" stroke="#666" stroke-width="0.5" />
<line x1="42.90" y1="132.80" x2="43.80" y2="132.80" stroke="#666" stroke-width="0.5" />
<line x1="42.90" y1="130.15" x2="43.80" y2="130.15" stroke="#666" stroke-width="0.5" />
<line x1="42.90" y1="127.50" x2="43.80" y2="127.50" stroke="#666" stroke-width="0.5" />
<line x1="42.90" y1="124.85" x2="43.80" y2="124.85" stroke="#666" stroke-width="0.5" />
<line x1="48.48" y1="164.60" x2="48.48" y2="165.90" stroke="#555" stroke-width="0.6" />
<rect x="46.68" y="167.20" width="3.60" height="1.50" fill="#b4b4b4" stroke="none" stroke-width="0"/>
<line x1="53.16" y1="164.60" x2="53.16" y2="165.90" stroke="#555" stroke-width="0.6" />
<rect x="51.36" y="167.20" width="3.60" height="1.50" fill="#b4b4b4" stroke="none" stroke-width="0"/>
<line x1="66.06" y1="164.60" x2="66.06" y2="165.90" stroke="#555" stroke-width="0.6" />
<rect x="64.26" y="167.20" width="3.60" height="1.50" fill="#b4b4b4" stroke="none" stroke-width="0"/>
<line x1="77.17" y1="164.60" x2="77.17" y2="165.90" stroke="#555" stroke-width="0.6" />
<rect x="75.37" y="167.20" width="3.60" height="1.50" fill="#b4b4b4" stroke="none" stroke-width="0"/>
<line x1="88.27" y1="164.60" x2="88.27" y2="165.90" stroke="#555" stroke-width="0.6" />
<rect x="86.47" y="167.20" width="3.60" height="1.50" fill="#b4b4b4" stroke="none" stroke-width="0"/>
<text x="51.50" y="135.80" font-size="10.1" font-weight="normal" font-style="italic" text-anchor="start" fill="#000" stroke="#000" stroke-width="0.3" >59094</text>
<path d="M106.30,163.60 L106.30,163.60 L106.80,163.60 L107.30,163.60 L107.80,163.60 L108.30,163.60 L108.80,163.60 L109.30,163.60 L109.80,163.60 L110.30,163.60 L110.80,163.60 L111.30,163.60 L111.80,163.60 L112.30,163.60 L112.80,163.60 L113.30,163.60 L113.80,163.60 L114.30,163.59 L114.80,163.59 L115.30,163.59 L115.80,163.58 L116.30,163.58 L116.80,163.57 L117.30,163.56 L117.80,163.54 L118.30,163.52 L118.80,163.49 L119.30,163.46 L119.80,163.41 L120.30,163.34 L120.80,163.26 L121.30,163.15 L121.80,163.01 L122.30,162.83 L122.80,162.59 L123.30,162.30 L123.80,161.94 L124.30,161.50 L124.80,160.89 L125.30,160.27 L125.80,159.38 L126.30,158.47 L126.80,157.27 L127.30,155.70 L127.80,154.27 L128.30,152.27 L128.80,150.22 L129.30,147.86 L129.80,145.24 L130.30,142.63 L130.80,139.26 L131.30,136.84 L131.80,133.82 L132.30,131.37 L132.80,128.98 L133.30,128.00 L133.80,129.38 L134.30,132.99 L134.80,136.88 L135.30,140.64 L135.80,144.01 L136.30,148.06 L136.80,150.98 L137.30,153.80 L137.80,156.02 L138.30,157.94 L138.80,159.37 L139.30,160.54 L139.80,161.40 L140.30,162.06 L140.80,162.53 L141.30,162.87 L141.80,163.11 L142.30,163.27 L142.80,163.39 L143.30,163.46 L143.80,163.51 L144.30,163.55 L144.80,163.57 L145.30,163.58 L145.80,163.59 L146.30,163.59 L146.80,163.60 L147.30,163.60 L147.80,163.60 L148.30,163.60 L148.80,163.60 L149.30,163.60 L149.80,163.60 L150.30,163.60 L150.80,163.60 L151.30,163.60 L151.80,163.60 L152.30,163.60 L152.80,163.60 L153.30,163.60 L153.80,163.60 L154.30,163.60 L154.80,163.60 L155.30,163.60 L155.80,163.60 L156.00,163.60 Z" fill="#000" stroke="none" stroke-width="0" />
<rect x="105.50" y="125.30" width="51.30" height="38.30" fill="none" stroke="#2a2a2a" stroke-width="0.9"/>
<line x1="105.50" y1="125.30" x2="105.50" y2="163.60" stroke="#111" stroke-width="1.0" />
<line x1="105.20" y1="163.60" x2="156.80" y2="163.60" stroke="#000" stroke-width="1.4" />
<line x1="103.90" y1="163.60" x2="105.50" y2="163.60" stroke="#444" stroke-width="0.7" />
<rect x="98.30" y="162.90" width="5.00" height="1.40" fill="#b4b4b4" stroke="none" stroke-width="0"/>
<line x1="103.90" y1="156.20" x2="105.50" y2="156.20" stroke="#444" stroke-width="0.7" />
<rect x="98.30" y="155.50" width="5.00" height="1.40" fill="#b4b4b4" stroke="none" stroke-width="0"/>
<line x1="103.90" y1="148.80" x2="105.50" y2="148.80" stroke="#444" stroke-width="0.7" />
<rect x="98.30" y="148.10" width="5.00" height="1.40" fill="#b4b4b4" stroke="none" stroke-width="0"/>
<line x1="103.90" y1="141.40" x2="105.50" y2="141.40" stroke="#444" stroke-width="0.7" />
<rect x="98.30" y="140.70" width="5.00" height="1.40" fill="#b4b4b4" stroke="none" stroke-width="0"/>
<line x1="103.90" y1="134.00" x2="105.50" y2="134.00" stroke="#444" stroke-width="0.7" />
<rect x="98.30" y="133.30" width="5.00" height="1.40" fill="#b4b4b4" stroke="none" stroke-width="0"/>
<line x1="103.90" y1="126.60" x2="105.50" y2="126.60" stroke="#444" stroke-width="0.7" />
<rect x="98.30" y="125.90" width="5.00" height="1.40" fill="#b4b4b4" stroke="none" stroke-width="0"/>
<line x1="104.60" y1="163.60" x2="105.50" y2="163.60" stroke="#666" stroke-width="0.5" />
<line x1="104.60" y1="161.75" x2="105.50" y2="161.75" stroke="#666" stroke-width="0.5" />
<line x1="104.60" y1="159.90" x2="105.50" y2="159.90" stroke="#666" stroke-width="0.5" />
<line x1="104.60" y1="158.05" x2="105.50" y2="158.05" stroke="#666" stroke-width="0.5" />
<line x1="104.60" y1="156.20" x2="105.50" y2="156.20" stroke="#666" stroke-width="0.5" />
<line x1="104.60" y1="154.35" x2="105.50" y2="154.35" stroke="#666" stroke-width="0.5" />
<line x1="104.60" y1="152.50" x2="105.50" y2="152.50" stroke="#666" stroke-width="0.5" />
<line x1="104.60" y1="150.65" x2="105.50" y2="150.65" stroke="#666" stroke-width="0.5" />
<line x1="104.60" y1="148.80" x2="105.50" y2="148.80" stroke="#666" stroke-width="0.5" />
<line x1="104.60" y1="146.95" x2="105.50" y2="146.95" stroke="#666" stroke-width="0.5" />
<line x1="104.60" y1="145.10" x2="105.50" y2="145.10" stroke="#666" stroke-width="0.5" />
<line x1="104.60" y1="143.25" x2="105.50" y2="143.25" stroke="#666" stroke-width="0.5" />
<line x1="104.60" y1="141.40" x2="105.50" y2="141.40" stroke="#666" stroke-width="0.5" />
<line x1="104.60" y1="139.55" x2="105.50" y2="139.55" stroke="#666" stroke-width="0.5" />
<line x1="104.60" y1="137.70" x2="105.50" y2="137.70" stroke="#666" stroke-width="0.5" />
<line x1="104.60" y1="135.85" x2="105.50" y2="135.85" stroke="#666" stroke-width="0.5" />
<line x1="104.60" y1="134.00" x2="105.50" y2="134.00" stroke="#666" stroke-width="0.5" />
<line x1="104.60" y1="132.15" x2="105.50" y2="132.15" stroke="#666" stroke-width="0.5" />
<line x1="104.60" y1="130.30" x2="105.50" y2="130.30" stroke="#666" stroke-width="0.5" />
<line x1="104.60" y1="128.45" x2="105.50" y2="128.45" stroke="#666" stroke-width="0.5" />
<line x1="104.60" y1="126.60" x2="105.50" y2="126.60" stroke="#666" stroke-width="0.5" />
<line x1="104.47" y1="163.60" x2="104.47" y2="164.90" stroke="#555" stroke-width="0.6" />
<rect x="102.67" y="166.20" width="3.60" height="1.50" fill="#b4b4b4" stroke="none" stroke-width="0"/>
<line x1="113.20" y1="163.60" x2="113.20" y2="164.90" stroke="#555" stroke-width="0.6" />
<rect x="111.40" y="166.20" width="3.60" height="1.50" fill="#b4b4b4" stroke="none" stroke-width="0"/>
<line x1="122.94" y1="163.60" x2="122.94" y2="164.90" stroke="#555" stroke-width="0.6" />
<rect x="121.14" y="166.20" width="3.60" height="1.50" fill="#b4b4b4" stroke="none" stroke-width="0"/>
<line x1="132.69" y1="163.60" x2="132.69" y2="164.90" stroke="#555" stroke-width="0.6" />
<rect x="130.89" y="166.20" width="3.60" height="1.50" fill="#b4b4b4" stroke="none" stroke-width="0"/>
<line x1="141.92" y1="163.60" x2="141.92" y2="164.90" stroke="#555" stroke-width="0.6" />
<rect x="140.12" y="166.20" width="3.60" height="1.50" fill="#b4b4b4" stroke="none" stroke-width="0"/>
<line x1="151.67" y1="163.60" x2="151.67" y2="164.90" stroke="#555" stroke-width="0.6" />
<rect x="149.87" y="166.20" width="3.60" height="1.50" fill="#b4b4b4" stroke="none" stroke-width="0"/>
<text x="107.30" y="136.70" font-size="10.1" font-weight="normal" font-style="italic" text-anchor="start" fill="#000" stroke="#000" stroke-width="0.3" >6800</text>
<path d="M168.10,164.20 L167.60,164.19 L168.60,164.19 L168.60,164.17 L169.60,164.17 L169.60,164.13 L170.60,164.13 L170.60,164.06 L171.60,164.06 L171.60,163.92 L172.60,163.92 L172.60,163.66 L173.60,163.66 L173.60,163.20 L174.60,163.20 L174.60,162.45 L175.60,162.45 L175.60,161.29 L176.60,161.29 L176.60,159.66 L177.60,159.66 L177.60,157.71 L178.60,157.71 L178.60,152.89 L179.60,152.89 L179.60,151.61 L180.60,151.61 L180.60,145.21 L181.60,145.21 L181.60,137.90 L182.60,137.90 L182.60,138.45 L183.60,138.45 L183.60,130.74 L184.60,130.74 L184.60,127.00 L185.60,127.00 L185.60,130.74 L186.60,130.74 L186.60,127.78 L187.60,127.78 L187.60,127.90 L188.60,127.90 L188.60,135.00 L189.60,135.00 L189.60,139.01 L190.60,139.01 L190.60,147.17 L191.60,147.17 L191.60,150.59 L192.60,150.59 L192.60,153.59 L193.60,153.59 L193.60,154.33 L194.60,154.33 L194.60,154.87 L195.60,154.87 L195.60,156.77 L196.60,156.77 L196.60,157.62 L197.60,157.62 L197.60,159.27 L198.60,159.27 L198.60,159.87 L199.60,159.87 L199.60,161.31 L200.60,161.31 L200.60,161.83 L201.60,161.83 L201.60,162.16 L202.60,162.16 L202.60,162.66 L203.60,162.66 L203.60,162.98 L204.60,162.98 L204.60,163.24 L205.60,163.24 L205.60,163.46 L206.60,163.46 L206.60,163.64 L207.60,163.64 L207.60,163.79 L208.60,163.79 L208.60,163.91 L209.60,163.91 L209.60,164.00 L210.60,164.00 L210.60,164.07 L211.60,164.07 L211.60,164.12 L212.60,164.12 L212.60,164.15 L213.60,164.15 L213.60,164.17 L214.60,164.17 L214.60,164.18 L215.60,164.18 L215.60,164.19 L216.60,164.19 L216.60,164.20 L217.60,164.20 L217.60,164.20 L218.60,164.20 L218.80,164.20 Z" fill="#000" stroke="none" stroke-width="0" />
<rect x="167.30" y="124.30" width="52.30" height="39.90" fill="none" stroke="#2a2a2a" stroke-width="0.9"/>
<line x1="167.30" y1="124.30" x2="167.30" y2="164.20" stroke="#111" stroke-width="1.0" />
<line x1="167.00" y1="164.20" x2="219.60" y2="164.20" stroke="#000" stroke-width="1.4" />
<line x1="165.70" y1="164.20" x2="167.30" y2="164.20" stroke="#444" stroke-width="0.7" />
<rect x="160.10" y="163.50" width="5.00" height="1.40" fill="#b4b4b4" stroke="none" stroke-width="0"/>
<line x1="165.70" y1="156.80" x2="167.30" y2="156.80" stroke="#444" stroke-width="0.7" />
<rect x="160.10" y="156.10" width="5.00" height="1.40" fill="#b4b4b4" stroke="none" stroke-width="0"/>
<line x1="165.70" y1="149.40" x2="167.30" y2="149.40" stroke="#444" stroke-width="0.7" />
<rect x="160.10" y="148.70" width="5.00" height="1.40" fill="#b4b4b4" stroke="none" stroke-width="0"/>
<line x1="165.70" y1="142.00" x2="167.30" y2="142.00" stroke="#444" stroke-width="0.7" />
<rect x="160.10" y="141.30" width="5.00" height="1.40" fill="#b4b4b4" stroke="none" stroke-width="0"/>
<line x1="165.70" y1="134.60" x2="167.30" y2="134.60" stroke="#444" stroke-width="0.7" />
<rect x="160.10" y="133.90" width="5.00" height="1.40" fill="#b4b4b4" stroke="none" stroke-width="0"/>
<line x1="165.70" y1="127.20" x2="167.30" y2="127.20" stroke="#444" stroke-width="0.7" />
<rect x="160.10" y="126.50" width="5.00" height="1.40" fill="#b4b4b4" stroke="none" stroke-width="0"/>
<line x1="166.40" y1="164.20" x2="167.30" y2="164.20" stroke="#666" stroke-width="0.5" />
<line x1="166.40" y1="162.35" x2="167.30" y2="162.35" stroke="#666" stroke-width="0.5" />
<line x1="166.40" y1="160.50" x2="167.30" y2="160.50" stroke="#666" stroke-width="0.5" />
<line x1="166.40" y1="158.65" x2="167.30" y2="158.65" stroke="#666" stroke-width="0.5" />
<line x1="166.40" y1="156.80" x2="167.30" y2="156.80" stroke="#666" stroke-width="0.5" />
<line x1="166.40" y1="154.95" x2="167.30" y2="154.95" stroke="#666" stroke-width="0.5" />
<line x1="166.40" y1="153.10" x2="167.30" y2="153.10" stroke="#666" stroke-width="0.5" />
<line x1="166.40" y1="151.25" x2="167.30" y2="151.25" stroke="#666" stroke-width="0.5" />
<line x1="166.40" y1="149.40" x2="167.30" y2="149.40" stroke="#666" stroke-width="0.5" />
<line x1="166.40" y1="147.55" x2="167.30" y2="147.55" stroke="#666" stroke-width="0.5" />
<line x1="166.40" y1="145.70" x2="167.30" y2="145.70" stroke="#666" stroke-width="0.5" />
<line x1="166.40" y1="143.85" x2="167.30" y2="143.85" stroke="#666" stroke-width="0.5" />
<line x1="166.40" y1="142.00" x2="167.30" y2="142.00" stroke="#666" stroke-width="0.5" />
<line x1="166.40" y1="140.15" x2="167.30" y2="140.15" stroke="#666" stroke-width="0.5" />
<line x1="166.40" y1="138.30" x2="167.30" y2="138.30" stroke="#666" stroke-width="0.5" />
<line x1="166.40" y1="136.45" x2="167.30" y2="136.45" stroke="#666" stroke-width="0.5" />
<line x1="166.40" y1="134.60" x2="167.30" y2="134.60" stroke="#666" stroke-width="0.5" />
<line x1="166.40" y1="132.75" x2="167.30" y2="132.75" stroke="#666" stroke-width="0.5" />
<line x1="166.40" y1="130.90" x2="167.30" y2="130.90" stroke="#666" stroke-width="0.5" />
<line x1="166.40" y1="129.05" x2="167.30" y2="129.05" stroke="#666" stroke-width="0.5" />
<line x1="166.40" y1="127.20" x2="167.30" y2="127.20" stroke="#666" stroke-width="0.5" />
<line x1="166.40" y1="125.35" x2="167.30" y2="125.35" stroke="#666" stroke-width="0.5" />
<line x1="176.19" y1="164.20" x2="176.19" y2="165.50" stroke="#555" stroke-width="0.6" />
<rect x="174.39" y="166.80" width="3.60" height="1.50" fill="#b4b4b4" stroke="none" stroke-width="0"/>
<line x1="186.13" y1="164.20" x2="186.13" y2="165.50" stroke="#555" stroke-width="0.6" />
<rect x="184.33" y="166.80" width="3.60" height="1.50" fill="#b4b4b4" stroke="none" stroke-width="0"/>
<line x1="201.82" y1="164.20" x2="201.82" y2="165.50" stroke="#555" stroke-width="0.6" />
<rect x="200.02" y="166.80" width="3.60" height="1.50" fill="#b4b4b4" stroke="none" stroke-width="0"/>
<line x1="214.37" y1="164.20" x2="214.37" y2="165.50" stroke="#555" stroke-width="0.6" />
<rect x="212.57" y="166.80" width="3.60" height="1.50" fill="#b4b4b4" stroke="none" stroke-width="0"/>
<text x="169.00" y="134.90" font-size="10.1" font-weight="normal" font-style="italic" text-anchor="start" fill="#000" stroke="#000" stroke-width="0.3" >854</text>
<path d="M44.80,211.60 L44.80,211.60 L45.30,211.60 L45.80,211.60 L46.30,211.60 L46.80,211.60 L47.30,211.60 L47.80,211.60 L48.30,211.60 L48.80,211.60 L49.30,211.60 L49.80,211.60 L50.30,211.60 L50.80,211.60 L51.30,211.60 L51.80,211.60 L52.30,211.60 L52.80,211.60 L53.30,211.60 L53.80,211.60 L54.30,211.60 L54.80,211.60 L55.30,211.60 L55.80,211.60 L56.30,211.60 L56.80,211.60 L57.30,211.60 L57.80,211.60 L58.30,211.60 L58.80,211.59 L59.30,211.59 L59.80,211.59 L60.30,211.58 L60.80,211.58 L61.30,211.57 L61.80,211.57 L62.30,211.55 L62.80,211.54 L63.30,211.53 L63.80,211.51 L64.30,211.48 L64.80,211.46 L65.30,211.43 L65.80,211.39 L66.30,211.35 L66.80,211.30 L67.30,211.25 L67.80,211.19 L68.30,211.13 L68.80,211.06 L69.30,210.98 L69.80,210.90 L70.30,210.81 L70.80,210.72 L71.30,210.62 L71.80,210.51 L72.30,210.39 L72.80,210.25 L73.30,210.08 L73.80,209.89 L74.30,209.65 L74.80,209.37 L75.30,209.00 L75.80,208.59 L76.30,207.99 L76.80,207.32 L77.30,206.52 L77.80,205.60 L78.30,204.33 L78.80,202.94 L79.30,201.29 L79.80,199.10 L80.30,196.84 L80.80,194.83 L81.30,191.71 L81.80,189.00 L82.30,186.21 L82.80,183.35 L83.30,180.16 L83.80,177.79 L84.30,175.42 L84.80,174.00 L85.30,174.33 L85.80,174.47 L86.30,175.89 L86.80,178.21 L87.30,181.35 L87.80,184.94 L88.30,188.20 L88.80,191.38 L89.30,194.12 L89.80,197.41 L90.30,200.07 L90.80,202.28 L91.30,204.46 L91.80,206.10 L92.30,207.48 L92.80,208.60 L92.80,211.60 Z" fill="#000" stroke="none" stroke-width="0" />
<rect x="44.00" y="171.30" width="49.60" height="40.30" fill="none" stroke="#2a2a2a" stroke-width="0.9"/>
<line x1="44.00" y1="171.30" x2="44.00" y2="211.60" stroke="#111" stroke-width="1.0" />
<line x1="43.70" y1="211.60" x2="93.60" y2="211.60" stroke="#000" stroke-width="1.4" />
<line x1="42.40" y1="211.60" x2="44.00" y2="211.60" stroke="#444" stroke-width="0.7" />
<rect x="36.80" y="210.90" width="5.00" height="1.40" fill="#b4b4b4" stroke="none" stroke-width="0"/>
<line x1="42.40" y1="201.00" x2="44.00" y2="201.00" stroke="#444" stroke-width="0.7" />
<rect x="36.80" y="200.30" width="5.00" height="1.40" fill="#b4b4b4" stroke="none" stroke-width="0"/>
<line x1="42.40" y1="190.40" x2="44.00" y2="190.40" stroke="#444" stroke-width="0.7" />
<rect x="36.80" y="189.70" width="5.00" height="1.40" fill="#b4b4b4" stroke="none" stroke-width="0"/>
<line x1="42.40" y1="179.80" x2="44.00" y2="179.80" stroke="#444" stroke-width="0.7" />
<rect x="36.80" y="179.10" width="5.00" height="1.40" fill="#b4b4b4" stroke="none" stroke-width="0"/>
<line x1="43.10" y1="211.60" x2="44.00" y2="211.60" stroke="#666" stroke-width="0.5" />
<line x1="43.10" y1="208.95" x2="44.00" y2="208.95" stroke="#666" stroke-width="0.5" />
<line x1="43.10" y1="206.30" x2="44.00" y2="206.30" stroke="#666" stroke-width="0.5" />
<line x1="43.10" y1="203.65" x2="44.00" y2="203.65" stroke="#666" stroke-width="0.5" />
<line x1="43.10" y1="201.00" x2="44.00" y2="201.00" stroke="#666" stroke-width="0.5" />
<line x1="43.10" y1="198.35" x2="44.00" y2="198.35" stroke="#666" stroke-width="0.5" />
<line x1="43.10" y1="195.70" x2="44.00" y2="195.70" stroke="#666" stroke-width="0.5" />
<line x1="43.10" y1="193.05" x2="44.00" y2="193.05" stroke="#666" stroke-width="0.5" />
<line x1="43.10" y1="190.40" x2="44.00" y2="190.40" stroke="#666" stroke-width="0.5" />
<line x1="43.10" y1="187.75" x2="44.00" y2="187.75" stroke="#666" stroke-width="0.5" />
<line x1="43.10" y1="185.10" x2="44.00" y2="185.10" stroke="#666" stroke-width="0.5" />
<line x1="43.10" y1="182.45" x2="44.00" y2="182.45" stroke="#666" stroke-width="0.5" />
<line x1="43.10" y1="179.80" x2="44.00" y2="179.80" stroke="#666" stroke-width="0.5" />
<line x1="43.10" y1="177.15" x2="44.00" y2="177.15" stroke="#666" stroke-width="0.5" />
<line x1="43.10" y1="174.50" x2="44.00" y2="174.50" stroke="#666" stroke-width="0.5" />
<line x1="43.10" y1="171.85" x2="44.00" y2="171.85" stroke="#666" stroke-width="0.5" />
<line x1="48.66" y1="211.60" x2="48.66" y2="212.90" stroke="#555" stroke-width="0.6" />
<rect x="46.86" y="214.20" width="3.60" height="1.50" fill="#b4b4b4" stroke="none" stroke-width="0"/>
<line x1="53.32" y1="211.60" x2="53.32" y2="212.90" stroke="#555" stroke-width="0.6" />
<rect x="51.52" y="214.20" width="3.60" height="1.50" fill="#b4b4b4" stroke="none" stroke-width="0"/>
<line x1="66.17" y1="211.60" x2="66.17" y2="212.90" stroke="#555" stroke-width="0.6" />
<rect x="64.37" y="214.20" width="3.60" height="1.50" fill="#b4b4b4" stroke="none" stroke-width="0"/>
<line x1="77.23" y1="211.60" x2="77.23" y2="212.90" stroke="#555" stroke-width="0.6" />
<rect x="75.43" y="214.20" width="3.60" height="1.50" fill="#b4b4b4" stroke="none" stroke-width="0"/>
<line x1="88.29" y1="211.60" x2="88.29" y2="212.90" stroke="#555" stroke-width="0.6" />
<rect x="86.49" y="214.20" width="3.60" height="1.50" fill="#b4b4b4" stroke="none" stroke-width="0"/>
<text x="52.20" y="183.00" font-size="10.1" font-weight="normal" font-style="italic" text-anchor="start" fill="#000" stroke="#000" stroke-width="0.3" >55315</text>
<path d="M106.30,210.90 L106.30,210.90 L106.80,210.90 L107.30,210.90 L107.80,210.90 L108.30,210.90 L108.80,210.90 L109.30,210.90 L109.80,210.90 L110.30,210.90 L110.80,210.90 L111.30,210.90 L111.80,210.90 L112.30,210.90 L112.80,210.90 L113.30,210.90 L113.80,210.90 L114.30,210.90 L114.80,210.90 L115.30,210.90 L115.80,210.89 L116.30,210.89 L116.80,210.89 L117.30,210.89 L117.80,210.88 L118.30,210.87 L118.80,210.86 L119.30,210.85 L119.80,210.83 L120.30,210.81 L120.80,210.78 L121.30,210.74 L121.80,210.68 L122.30,210.61 L122.80,210.52 L123.30,210.40 L123.80,210.25 L124.30,210.05 L124.80,209.80 L125.30,209.49 L125.80,209.10 L126.30,208.61 L126.80,208.00 L127.30,207.22 L127.80,206.37 L128.30,205.28 L128.80,203.97 L129.30,202.53 L129.80,200.66 L130.30,198.54 L130.80,196.10 L131.30,193.80 L131.80,190.79 L132.30,187.82 L132.80,184.00 L133.30,180.76 L133.80,178.27 L134.30,174.71 L134.80,174.00 L135.30,175.69 L135.80,177.97 L136.30,181.21 L136.80,184.48 L137.30,187.40 L137.80,191.01 L138.30,194.07 L138.80,196.95 L139.30,199.63 L139.80,201.77 L140.30,203.72 L140.80,205.28 L141.30,206.66 L141.80,207.71 L142.30,208.55 L142.80,209.19 L143.30,209.67 L143.80,210.03 L144.30,210.30 L144.80,210.48 L145.30,210.62 L145.80,210.71 L146.30,210.78 L146.80,210.82 L147.30,210.85 L147.80,210.87 L148.30,210.88 L148.80,210.89 L149.30,210.89 L149.80,210.90 L150.30,210.90 L150.80,210.90 L151.30,210.90 L151.80,210.90 L152.30,210.90 L152.80,210.90 L153.30,210.90 L153.80,210.90 L154.30,210.90 L154.80,210.90 L155.30,210.90 L155.70,210.90 Z" fill="#000" stroke="none" stroke-width="0" />
<rect x="105.50" y="171.30" width="51.00" height="39.60" fill="none" stroke="#2a2a2a" stroke-width="0.9"/>
<line x1="105.50" y1="171.30" x2="105.50" y2="210.90" stroke="#111" stroke-width="1.0" />
<line x1="105.20" y1="210.90" x2="156.50" y2="210.90" stroke="#000" stroke-width="1.4" />
<line x1="103.90" y1="210.90" x2="105.50" y2="210.90" stroke="#444" stroke-width="0.7" />
<rect x="98.30" y="210.20" width="5.00" height="1.40" fill="#b4b4b4" stroke="none" stroke-width="0"/>
<line x1="103.90" y1="203.50" x2="105.50" y2="203.50" stroke="#444" stroke-width="0.7" />
<rect x="98.30" y="202.80" width="5.00" height="1.40" fill="#b4b4b4" stroke="none" stroke-width="0"/>
<line x1="103.90" y1="196.10" x2="105.50" y2="196.10" stroke="#444" stroke-width="0.7" />
<rect x="98.30" y="195.40" width="5.00" height="1.40" fill="#b4b4b4" stroke="none" stroke-width="0"/>
<line x1="103.90" y1="188.70" x2="105.50" y2="188.70" stroke="#444" stroke-width="0.7" />
<rect x="98.30" y="188.00" width="5.00" height="1.40" fill="#b4b4b4" stroke="none" stroke-width="0"/>
<line x1="103.90" y1="181.30" x2="105.50" y2="181.30" stroke="#444" stroke-width="0.7" />
<rect x="98.30" y="180.60" width="5.00" height="1.40" fill="#b4b4b4" stroke="none" stroke-width="0"/>
<line x1="103.90" y1="173.90" x2="105.50" y2="173.90" stroke="#444" stroke-width="0.7" />
<rect x="98.30" y="173.20" width="5.00" height="1.40" fill="#b4b4b4" stroke="none" stroke-width="0"/>
<line x1="104.60" y1="210.90" x2="105.50" y2="210.90" stroke="#666" stroke-width="0.5" />
<line x1="104.60" y1="209.05" x2="105.50" y2="209.05" stroke="#666" stroke-width="0.5" />
<line x1="104.60" y1="207.20" x2="105.50" y2="207.20" stroke="#666" stroke-width="0.5" />
<line x1="104.60" y1="205.35" x2="105.50" y2="205.35" stroke="#666" stroke-width="0.5" />
<line x1="104.60" y1="203.50" x2="105.50" y2="203.50" stroke="#666" stroke-width="0.5" />
<line x1="104.60" y1="201.65" x2="105.50" y2="201.65" stroke="#666" stroke-width="0.5" />
<line x1="104.60" y1="199.80" x2="105.50" y2="199.80" stroke="#666" stroke-width="0.5" />
<line x1="104.60" y1="197.95" x2="105.50" y2="197.95" stroke="#666" stroke-width="0.5" />
<line x1="104.60" y1="196.10" x2="105.50" y2="196.10" stroke="#666" stroke-width="0.5" />
<line x1="104.60" y1="194.25" x2="105.50" y2="194.25" stroke="#666" stroke-width="0.5" />
<line x1="104.60" y1="192.40" x2="105.50" y2="192.40" stroke="#666" stroke-width="0.5" />
<line x1="104.60" y1="190.55" x2="105.50" y2="190.55" stroke="#666" stroke-width="0.5" />
<line x1="104.60" y1="188.70" x2="105.50" y2="188.70" stroke="#666" stroke-width="0.5" />
<line x1="104.60" y1="186.85" x2="105.50" y2="186.85" stroke="#666" stroke-width="0.5" />
<line x1="104.60" y1="185.00" x2="105.50" y2="185.00" stroke="#666" stroke-width="0.5" />
<line x1="104.60" y1="183.15" x2="105.50" y2="183.15" stroke="#666" stroke-width="0.5" />
<line x1="104.60" y1="181.30" x2="105.50" y2="181.30" stroke="#666" stroke-width="0.5" />
<line x1="104.60" y1="179.45" x2="105.50" y2="179.45" stroke="#666" stroke-width="0.5" />
<line x1="104.60" y1="177.60" x2="105.50" y2="177.60" stroke="#666" stroke-width="0.5" />
<line x1="104.60" y1="175.75" x2="105.50" y2="175.75" stroke="#666" stroke-width="0.5" />
<line x1="104.60" y1="173.90" x2="105.50" y2="173.90" stroke="#666" stroke-width="0.5" />
<line x1="104.60" y1="172.05" x2="105.50" y2="172.05" stroke="#666" stroke-width="0.5" />
<line x1="104.48" y1="210.90" x2="104.48" y2="212.20" stroke="#555" stroke-width="0.6" />
<rect x="102.68" y="213.50" width="3.60" height="1.50" fill="#b4b4b4" stroke="none" stroke-width="0"/>
<line x1="113.15" y1="210.90" x2="113.15" y2="212.20" stroke="#555" stroke-width="0.6" />
<rect x="111.35" y="213.50" width="3.60" height="1.50" fill="#b4b4b4" stroke="none" stroke-width="0"/>
<line x1="122.84" y1="210.90" x2="122.84" y2="212.20" stroke="#555" stroke-width="0.6" />
<rect x="121.04" y="213.50" width="3.60" height="1.50" fill="#b4b4b4" stroke="none" stroke-width="0"/>
<line x1="132.53" y1="210.90" x2="132.53" y2="212.20" stroke="#555" stroke-width="0.6" />
<rect x="130.73" y="213.50" width="3.60" height="1.50" fill="#b4b4b4" stroke="none" stroke-width="0"/>
<line x1="141.71" y1="210.90" x2="141.71" y2="212.20" stroke="#555" stroke-width="0.6" />
<rect x="139.91" y="213.50" width="3.60" height="1.50" fill="#b4b4b4" stroke="none" stroke-width="0"/>
<line x1="151.40" y1="210.90" x2="151.40" y2="212.20" stroke="#555" stroke-width="0.6" />
<rect x="149.60" y="213.50" width="3.60" height="1.50" fill="#b4b4b4" stroke="none" stroke-width="0"/>
<text x="105.70" y="182.00" font-size="10.1" font-weight="normal" font-style="italic" text-anchor="start" fill="#000" stroke="#000" stroke-width="0.3" >10685</text>
<path d="M169.80,211.40 L169.30,211.31 L170.30,211.31 L170.30,211.25 L171.30,211.25 L171.30,211.18 L172.30,211.18 L172.30,211.08 L173.30,211.08 L173.30,210.94 L174.30,210.94 L174.30,210.77 L175.30,210.77 L175.30,210.55 L176.30,210.55 L176.30,210.29 L177.30,210.29 L177.30,209.98 L178.30,209.98 L178.30,209.62 L179.30,209.62 L179.30,209.24 L180.30,209.24 L180.30,208.76 L181.30,208.76 L181.30,208.27 L182.30,208.27 L182.30,207.90 L183.30,207.90 L183.30,207.31 L184.30,207.31 L184.30,206.28 L185.30,206.28 L185.30,205.17 L186.30,205.17 L186.30,203.15 L187.30,203.15 L187.30,201.00 L188.30,201.00 L188.30,198.21 L189.30,198.21 L189.30,194.73 L190.30,194.73 L190.30,190.43 L191.30,190.43 L191.30,187.30 L192.30,187.30 L192.30,182.35 L193.30,182.35 L193.30,179.61 L194.30,179.61 L194.30,174.42 L195.30,174.42 L195.30,176.27 L196.30,176.27 L196.30,173.70 L197.30,173.70 L197.30,177.66 L198.30,177.66 L198.30,178.25 L199.30,178.25 L199.30,183.40 L200.30,183.40 L200.30,188.21 L201.30,188.21 L201.30,192.81 L202.30,192.81 L202.30,199.21 L203.30,199.21 L203.30,203.34 L204.30,203.34 L204.30,206.09 L205.30,206.09 L205.30,208.57 L206.30,208.57 L206.30,209.98 L207.30,209.98 L207.30,210.75 L208.30,210.75 L208.30,211.13 L209.30,211.13 L209.30,211.30 L210.30,211.30 L210.30,211.37 L211.30,211.37 L211.30,211.39 L212.30,211.39 L212.30,211.40 L213.30,211.40 L213.30,211.40 L214.30,211.40 L214.30,211.40 L215.30,211.40 L215.30,211.40 L216.30,211.40 L216.30,211.40 L217.30,211.40 L217.30,211.40 L218.30,211.40 L218.30,211.40 L219.30,211.40 L218.80,211.40 Z" fill="#000" stroke="none" stroke-width="0" />
<rect x="169.00" y="171.00" width="50.60" height="40.40" fill="none" stroke="#2a2a2a" stroke-width="0.9"/>
<line x1="169.00" y1="171.00" x2="169.00" y2="211.40" stroke="#111" stroke-width="1.0" />
<line x1="168.70" y1="211.40" x2="219.60" y2="211.40" stroke="#000" stroke-width="1.4" />
<line x1="167.40" y1="211.40" x2="169.00" y2="211.40" stroke="#444" stroke-width="0.7" />
<rect x="161.80" y="210.70" width="5.00" height="1.40" fill="#b4b4b4" stroke="none" stroke-width="0"/>
<line x1="167.40" y1="204.00" x2="169.00" y2="204.00" stroke="#444" stroke-width="0.7" />
<rect x="161.80" y="203.30" width="5.00" height="1.40" fill="#b4b4b4" stroke="none" stroke-width="0"/>
<line x1="167.40" y1="196.60" x2="169.00" y2="196.60" stroke="#444" stroke-width="0.7" />
<rect x="161.80" y="195.90" width="5.00" height="1.40" fill="#b4b4b4" stroke="none" stroke-width="0"/>
<line x1="167.40" y1="189.20" x2="169.00" y2="189.20" stroke="#444" stroke-width="0.7" />
<rect x="161.80" y="188.50" width="5.00" height="1.40" fill="#b4b4b4" stroke="none" stroke-width="0"/>
<line x1="167.40" y1="181.80" x2="169.00" y2="181.80" stroke="#444" stroke-width="0.7" />
<rect x="161.80" y="181.10" width="5.00" height="1.40" fill="#b4b4b4" stroke="none" stroke-width="0"/>
<line x1="167.40" y1="174.40" x2="169.00" y2="174.40" stroke="#444" stroke-width="0.7" />
<rect x="161.80" y="173.70" width="5.00" height="1.40" fill="#b4b4b4" stroke="none" stroke-width="0"/>
<line x1="168.10" y1="211.40" x2="169.00" y2="211.40" stroke="#666" stroke-width="0.5" />
<line x1="168.10" y1="209.55" x2="169.00" y2="209.55" stroke="#666" stroke-width="0.5" />
<line x1="168.10" y1="207.70" x2="169.00" y2="207.70" stroke="#666" stroke-width="0.5" />
<line x1="168.10" y1="205.85" x2="169.00" y2="205.85" stroke="#666" stroke-width="0.5" />
<line x1="168.10" y1="204.00" x2="169.00" y2="204.00" stroke="#666" stroke-width="0.5" />
<line x1="168.10" y1="202.15" x2="169.00" y2="202.15" stroke="#666" stroke-width="0.5" />
<line x1="168.10" y1="200.30" x2="169.00" y2="200.30" stroke="#666" stroke-width="0.5" />
<line x1="168.10" y1="198.45" x2="169.00" y2="198.45" stroke="#666" stroke-width="0.5" />
<line x1="168.10" y1="196.60" x2="169.00" y2="196.60" stroke="#666" stroke-width="0.5" />
<line x1="168.10" y1="194.75" x2="169.00" y2="194.75" stroke="#666" stroke-width="0.5" />
<line x1="168.10" y1="192.90" x2="169.00" y2="192.90" stroke="#666" stroke-width="0.5" />
<line x1="168.10" y1="191.05" x2="169.00" y2="191.05" stroke="#666" stroke-width="0.5" />
<line x1="168.10" y1="189.20" x2="169.00" y2="189.20" stroke="#666" stroke-width="0.5" />
<line x1="168.10" y1="187.35" x2="169.00" y2="187.35" stroke="#666" stroke-width="0.5" />
<line x1="168.10" y1="185.50" x2="169.00" y2="185.50" stroke="#666" stroke-width="0.5" />
<line x1="168.10" y1="183.65" x2="169.00" y2="183.65" stroke="#666" stroke-width="0.5" />
<line x1="168.10" y1="181.80" x2="169.00" y2="181.80" stroke="#666" stroke-width="0.5" />
<line x1="168.10" y1="179.95" x2="169.00" y2="179.95" stroke="#666" stroke-width="0.5" />
<line x1="168.10" y1="178.10" x2="169.00" y2="178.10" stroke="#666" stroke-width="0.5" />
<line x1="168.10" y1="176.25" x2="169.00" y2="176.25" stroke="#666" stroke-width="0.5" />
<line x1="168.10" y1="174.40" x2="169.00" y2="174.40" stroke="#666" stroke-width="0.5" />
<line x1="168.10" y1="172.55" x2="169.00" y2="172.55" stroke="#666" stroke-width="0.5" />
<line x1="177.60" y1="211.40" x2="177.60" y2="212.70" stroke="#555" stroke-width="0.6" />
<rect x="175.80" y="214.00" width="3.60" height="1.50" fill="#b4b4b4" stroke="none" stroke-width="0"/>
<line x1="187.22" y1="211.40" x2="187.22" y2="212.70" stroke="#555" stroke-width="0.6" />
<rect x="185.42" y="214.00" width="3.60" height="1.50" fill="#b4b4b4" stroke="none" stroke-width="0"/>
<line x1="202.40" y1="211.40" x2="202.40" y2="212.70" stroke="#555" stroke-width="0.6" />
<rect x="200.60" y="214.00" width="3.60" height="1.50" fill="#b4b4b4" stroke="none" stroke-width="0"/>
<line x1="214.54" y1="211.40" x2="214.54" y2="212.70" stroke="#555" stroke-width="0.6" />
<rect x="212.74" y="214.00" width="3.60" height="1.50" fill="#b4b4b4" stroke="none" stroke-width="0"/>
<text x="170.20" y="181.50" font-size="10.1" font-weight="normal" font-style="italic" text-anchor="start" fill="#000" stroke="#000" stroke-width="0.3" >3210</text>
<line x1="44.00" y1="222.80" x2="111.00" y2="222.80" stroke="#000" stroke-width="1.5" />
<line x1="158.50" y1="222.80" x2="220.00" y2="222.80" stroke="#000" stroke-width="1.5" />
<text x="133.40" y="226.70" font-size="11.6" font-weight="bold" font-style="normal" text-anchor="middle" fill="#000" stroke="#000" stroke-width="0.2" >Gzm B</text>
<line x1="240.60" y1="19.40" x2="240.60" y2="76.90" stroke="#000" stroke-width="1.3" />
<line x1="240.60" y1="149.00" x2="240.60" y2="213.90" stroke="#000" stroke-width="1.3" />
<text x="0" y="0" font-size="12.5" font-weight="bold" text-anchor="middle" stroke="#000" stroke-width="0.2" transform="translate(246.00,113.60) rotate(-90)">GzmB MFI</text>
<line x1="269.40" y1="21.70" x2="269.40" y2="97.65" stroke="#000" stroke-width="1.3" />
<line x1="266.80" y1="97.00" x2="269.40" y2="97.00" stroke="#000" stroke-width="1.3" />
<text x="267.20" y="99.52" font-size="7.0" font-weight="normal" font-style="normal" text-anchor="end" fill="#000" stroke="#000" stroke-width="0.3" >0</text>
<line x1="266.80" y1="84.70" x2="269.40" y2="84.70" stroke="#000" stroke-width="1.3" />
<text x="267.20" y="87.22" font-size="7.0" font-weight="normal" font-style="normal" text-anchor="end" fill="#000" stroke="#000" stroke-width="0.3" >2000</text>
<line x1="266.80" y1="72.40" x2="269.40" y2="72.40" stroke="#000" stroke-width="1.3" />
<text x="267.20" y="74.92" font-size="7.0" font-weight="normal" font-style="normal" text-anchor="end" fill="#000" stroke="#000" stroke-width="0.3" >4000</text>
<line x1="266.80" y1="60.10" x2="269.40" y2="60.10" stroke="#000" stroke-width="1.3" />
<text x="267.20" y="62.62" font-size="7.0" font-weight="normal" font-style="normal" text-anchor="end" fill="#000" stroke="#000" stroke-width="0.3" >6000</text>
<line x1="266.80" y1="47.80" x2="269.40" y2="47.80" stroke="#000" stroke-width="1.3" />
<text x="267.20" y="50.32" font-size="7.0" font-weight="normal" font-style="normal" text-anchor="end" fill="#000" stroke="#000" stroke-width="0.3" >8000</text>
<line x1="266.80" y1="35.50" x2="269.40" y2="35.50" stroke="#000" stroke-width="1.3" />
<text x="267.20" y="38.02" font-size="7.0" font-weight="normal" font-style="normal" text-anchor="end" fill="#000" stroke="#000" stroke-width="0.3" >10000</text>
<line x1="266.80" y1="23.20" x2="269.40" y2="23.20" stroke="#000" stroke-width="1.3" />
<text x="267.20" y="25.72" font-size="7.0" font-weight="normal" font-style="normal" text-anchor="end" fill="#000" stroke="#000" stroke-width="0.3" >12000</text>
<line x1="268.70" y1="97.00" x2="331.50" y2="97.00" stroke="#000" stroke-width="1.4" />
<line x1="280.50" y1="41.04" x2="280.50" y2="38.58" stroke="#000" stroke-width="1.2" />
<line x1="277.00" y1="38.58" x2="284.00" y2="38.58" stroke="#000" stroke-width="1.3" />
<rect x="273.70" y="41.74" width="13.60" height="55.26" fill="#000" stroke="#000" stroke-width="1.4"/>
<line x1="300.75" y1="53.64" x2="300.75" y2="51.80" stroke="#000" stroke-width="1.2" />
<line x1="297.25" y1="51.80" x2="304.25" y2="51.80" stroke="#000" stroke-width="1.3" />
<rect x="294.00" y="54.34" width="13.50" height="42.66" fill="#fff" stroke="#000" stroke-width="1.4"/>
<line x1="321.75" y1="35.19" x2="321.75" y2="31.50" stroke="#000" stroke-width="1.2" />
<line x1="318.25" y1="31.50" x2="325.25" y2="31.50" stroke="#000" stroke-width="1.3" />
<rect x="315.20" y="35.89" width="13.10" height="61.11" fill="#888" stroke="#000" stroke-width="1.4"/>
<text x="298.00" y="112.60" font-size="11" font-weight="bold" font-style="normal" text-anchor="middle" fill="#000" stroke="#000" stroke-width="0.2" >Day 7</text>
<line x1="269.90" y1="139.30" x2="269.90" y2="213.25" stroke="#000" stroke-width="1.3" />
<line x1="267.30" y1="212.60" x2="269.90" y2="212.60" stroke="#000" stroke-width="1.3" />
<text x="267.50" y="215.12" font-size="7.0" font-weight="normal" font-style="normal" text-anchor="end" fill="#000" stroke="#000" stroke-width="0.3" >0</text>
<line x1="267.30" y1="202.26" x2="269.90" y2="202.26" stroke="#000" stroke-width="1.3" />
<text x="267.50" y="204.78" font-size="7.0" font-weight="normal" font-style="normal" text-anchor="end" fill="#000" stroke="#000" stroke-width="0.3" >500</text>
<line x1="267.30" y1="191.91" x2="269.90" y2="191.91" stroke="#000" stroke-width="1.3" />
<text x="267.50" y="194.43" font-size="7.0" font-weight="normal" font-style="normal" text-anchor="end" fill="#000" stroke="#000" stroke-width="0.3" >1000</text>
<line x1="267.30" y1="181.57" x2="269.90" y2="181.57" stroke="#000" stroke-width="1.3" />
<text x="267.50" y="184.09" font-size="7.0" font-weight="normal" font-style="normal" text-anchor="end" fill="#000" stroke="#000" stroke-width="0.3" >1500</text>
<line x1="267.30" y1="171.23" x2="269.90" y2="171.23" stroke="#000" stroke-width="1.3" />
<text x="267.50" y="173.75" font-size="7.0" font-weight="normal" font-style="normal" text-anchor="end" fill="#000" stroke="#000" stroke-width="0.3" >2000</text>
<line x1="267.30" y1="160.89" x2="269.90" y2="160.89" stroke="#000" stroke-width="1.3" />
<text x="267.50" y="163.41" font-size="7.0" font-weight="normal" font-style="normal" text-anchor="end" fill="#000" stroke="#000" stroke-width="0.3" >2500</text>
<line x1="267.30" y1="150.54" x2="269.90" y2="150.54" stroke="#000" stroke-width="1.3" />
<text x="267.50" y="153.06" font-size="7.0" font-weight="normal" font-style="normal" text-anchor="end" fill="#000" stroke="#000" stroke-width="0.3" >3000</text>
<line x1="267.30" y1="140.20" x2="269.90" y2="140.20" stroke="#000" stroke-width="1.3" />
<text x="267.50" y="142.72" font-size="7.0" font-weight="normal" font-style="normal" text-anchor="end" fill="#000" stroke="#000" stroke-width="0.3" >3500</text>
<line x1="269.20" y1="212.60" x2="335.80" y2="212.60" stroke="#000" stroke-width="1.4" />
<line x1="280.90" y1="168.95" x2="280.90" y2="168.13" stroke="#000" stroke-width="1.2" />
<line x1="277.40" y1="168.13" x2="284.40" y2="168.13" stroke="#000" stroke-width="1.3" />
<rect x="274.20" y="169.65" width="13.40" height="42.95" fill="#000" stroke="#000" stroke-width="1.4"/>
<line x1="302.30" y1="193.98" x2="302.30" y2="192.12" stroke="#000" stroke-width="1.2" />
<line x1="298.80" y1="192.12" x2="305.80" y2="192.12" stroke="#000" stroke-width="1.3" />
<rect x="295.70" y="194.68" width="13.20" height="17.92" fill="#fff" stroke="#000" stroke-width="1.4"/>
<line x1="324.15" y1="146.41" x2="324.15" y2="143.92" stroke="#000" stroke-width="1.2" />
<line x1="320.65" y1="143.92" x2="327.65" y2="143.92" stroke="#000" stroke-width="1.3" />
<rect x="317.20" y="147.11" width="13.90" height="65.49" fill="#888" stroke="#000" stroke-width="1.4"/>
<path d="M280.60,166.20 L280.60,164.20 L302.80,164.20 L302.80,166.20" fill="none" stroke="#000" stroke-width="1.0" />
<text x="292.00" y="165.10" font-size="13.5" font-weight="normal" font-style="normal" text-anchor="middle" fill="#000" stroke="#000" stroke-width="0.3" letter-spacing="1.2">***</text>
<path d="M281.20,142.00 L281.20,140.00 L324.60,140.00 L324.60,142.00" fill="none" stroke="#000" stroke-width="1.0" />
<text x="303.30" y="140.70" font-size="13.5" font-weight="normal" font-style="normal" text-anchor="middle" fill="#000" stroke="#000" stroke-width="0.3" letter-spacing="1.2">***</text>
<text x="302.30" y="226.20" font-size="11" font-weight="bold" font-style="normal" text-anchor="middle" fill="#000" stroke="#000" stroke-width="0.2" >Day 15</text>
<text x="382.00" y="13.00" font-size="16" font-weight="bold" font-style="normal" text-anchor="start" fill="#000" stroke="#000" stroke-width="0.2" >B</text>
<text x="0" y="0" font-size="12.95" font-weight="bold" text-anchor="middle" stroke="#000" stroke-width="0.2" transform="translate(391.80,122.60) rotate(-90)">Relative mRNA Expression</text>
<line x1="425.10" y1="29.90" x2="425.10" y2="107.05" stroke="#000" stroke-width="1.3" />
<line x1="422.60" y1="42.70" x2="425.10" y2="42.70" stroke="#000" stroke-width="1.3" />
<line x1="422.60" y1="63.90" x2="425.10" y2="63.90" stroke="#000" stroke-width="1.3" />
<line x1="422.60" y1="85.10" x2="425.10" y2="85.10" stroke="#000" stroke-width="1.3" />
<line x1="422.60" y1="106.30" x2="425.10" y2="106.30" stroke="#000" stroke-width="1.3" />
<text x="416.60" y="47.00" font-size="10" text-anchor="end" stroke="#000" stroke-width="0.3">2<tspan font-size="6.5" dx="0.00" dy="-3.80" stroke-width="0.15">1</tspan></text>
<text x="416.60" y="68.20" font-size="10" text-anchor="end" stroke="#000" stroke-width="0.3">2<tspan font-size="6.5" dx="0.00" dy="-3.80" stroke-width="0.15">0</tspan></text>
<text x="416.60" y="89.40" font-size="10" text-anchor="end" stroke="#000" stroke-width="0.3">2<tspan font-size="6.5" dx="0.00" dy="-3.80" stroke-width="0.15">-1</tspan></text>
<text x="416.60" y="110.60" font-size="10" text-anchor="end" stroke="#000" stroke-width="0.3">2<tspan font-size="6.5" dx="0.00" dy="-3.80" stroke-width="0.15">-2</tspan></text>
<line x1="424.50" y1="106.40" x2="495.80" y2="106.40" stroke="#000" stroke-width="1.4" />
<rect x="429.00" y="64.60" width="15.30" height="41.80" fill="#000" stroke="#000" stroke-width="1.4"/>
<line x1="460.60" y1="81.90" x2="460.60" y2="70.00" stroke="#000" stroke-width="1.2" />
<line x1="457.10" y1="70.00" x2="464.10" y2="70.00" stroke="#000" stroke-width="1.3" />
<rect x="453.10" y="82.60" width="15.00" height="23.80" fill="#fff" stroke="#000" stroke-width="1.4"/>
<line x1="484.80" y1="58.50" x2="484.80" y2="56.20" stroke="#000" stroke-width="1.2" />
<line x1="481.30" y1="56.20" x2="488.30" y2="56.20" stroke="#000" stroke-width="1.3" />
<rect x="477.40" y="59.20" width="14.80" height="47.20" fill="#888" stroke="#000" stroke-width="1.4"/>
<text x="460.90" y="119.90" font-size="11.1" font-weight="bold" font-style="normal" text-anchor="middle" fill="#000" stroke="#000" stroke-width="0.2" >Gzm A</text>
<line x1="425.20" y1="129.20" x2="425.20" y2="204.65" stroke="#000" stroke-width="1.3" />
<line x1="422.70" y1="140.20" x2="425.20" y2="140.20" stroke="#000" stroke-width="1.3" />
<line x1="422.70" y1="161.50" x2="425.20" y2="161.50" stroke="#000" stroke-width="1.3" />
<line x1="422.70" y1="182.80" x2="425.20" y2="182.80" stroke="#000" stroke-width="1.3" />
<line x1="422.70" y1="204.10" x2="425.20" y2="204.10" stroke="#000" stroke-width="1.3" />
<text x="416.60" y="144.50" font-size="10" text-anchor="end" stroke="#000" stroke-width="0.3">2<tspan font-size="6.5" dx="0.00" dy="-3.80" stroke-width="0.15">1</tspan></text>
<text x="416.60" y="165.80" font-size="10" text-anchor="end" stroke="#000" stroke-width="0.3">2<tspan font-size="6.5" dx="0.00" dy="-3.80" stroke-width="0.15">0</tspan></text>
<text x="416.60" y="187.10" font-size="10" text-anchor="end" stroke="#000" stroke-width="0.3">2<tspan font-size="6.5" dx="0.00" dy="-3.80" stroke-width="0.15">-1</tspan></text>
<text x="416.60" y="208.40" font-size="10" text-anchor="end" stroke="#000" stroke-width="0.3">2<tspan font-size="6.5" dx="0.00" dy="-3.80" stroke-width="0.15">-2</tspan></text>
<line x1="424.60" y1="204.00" x2="495.80" y2="204.00" stroke="#000" stroke-width="1.4" />
<rect x="429.00" y="162.20" width="15.10" height="41.80" fill="#000" stroke="#000" stroke-width="1.4"/>
<line x1="460.40" y1="169.20" x2="460.40" y2="161.50" stroke="#000" stroke-width="1.2" />
<line x1="456.90" y1="161.50" x2="463.90" y2="161.50" stroke="#000" stroke-width="1.3" />
<rect x="453.00" y="169.90" width="14.80" height="34.10" fill="#fff" stroke="#000" stroke-width="1.4"/>
<line x1="484.40" y1="176.30" x2="484.40" y2="168.30" stroke="#000" stroke-width="1.2" />
<line x1="480.90" y1="168.30" x2="487.90" y2="168.30" stroke="#000" stroke-width="1.3" />
<rect x="477.00" y="177.00" width="14.80" height="27.00" fill="#888" stroke="#000" stroke-width="1.4"/>
<text x="454.50" y="218.80" font-size="11.1" font-weight="bold" font-style="normal" text-anchor="middle" fill="#000" stroke="#000" stroke-width="0.2" >Perforin</text>
<text x="1.00" y="252.00" font-size="16" font-weight="bold" font-style="normal" text-anchor="start" fill="#000" stroke="#000" stroke-width="0.2" >C</text>
<text x="0" y="0" font-size="11.7" font-weight="bold" text-anchor="middle" stroke="#000" stroke-width="0.2" transform="translate(34.60,378.00) rotate(-90)">Relative mRNA Expression</text>
<line x1="63.40" y1="244.50" x2="63.40" y2="316.10" stroke="#000" stroke-width="1.2" />
<line x1="60.60" y1="244.80" x2="63.40" y2="244.80" stroke="#000" stroke-width="1.2" />
<line x1="60.60" y1="258.90" x2="63.40" y2="258.90" stroke="#000" stroke-width="1.2" />
<line x1="60.60" y1="273.00" x2="63.40" y2="273.00" stroke="#000" stroke-width="1.2" />
<line x1="60.60" y1="287.10" x2="63.40" y2="287.10" stroke="#000" stroke-width="1.2" />
<line x1="60.60" y1="301.20" x2="63.40" y2="301.20" stroke="#000" stroke-width="1.2" />
<line x1="60.60" y1="315.30" x2="63.40" y2="315.30" stroke="#000" stroke-width="1.2" />
<text x="54.40" y="248.77" font-size="8.8" text-anchor="end" stroke="#000" stroke-width="0.28">2<tspan font-size="5.8" dx="0.70" dy="-4.04" stroke-width="0.15">2</tspan></text>
<text x="54.40" y="262.87" font-size="8.8" text-anchor="end" stroke="#000" stroke-width="0.28">2<tspan font-size="5.8" dx="0.70" dy="-4.04" stroke-width="0.15">1</tspan></text>
<text x="54.40" y="276.97" font-size="8.8" text-anchor="end" stroke="#000" stroke-width="0.28">2<tspan font-size="5.8" dx="0.70" dy="-4.04" stroke-width="0.15">0</tspan></text>
<text x="54.40" y="291.07" font-size="8.8" text-anchor="end" stroke="#000" stroke-width="0.28">2<tspan font-size="5.8" dx="0.70" dy="-4.04" stroke-width="0.15">-1</tspan></text>
<text x="54.40" y="305.17" font-size="8.8" text-anchor="end" stroke="#000" stroke-width="0.28">2<tspan font-size="5.8" dx="0.70" dy="-4.04" stroke-width="0.15">-2</tspan></text>
<text x="54.40" y="319.27" font-size="8.8" text-anchor="end" stroke="#000" stroke-width="0.28">2<tspan font-size="5.8" dx="0.70" dy="-4.04" stroke-width="0.15">-3</tspan></text>
<line x1="62.80" y1="315.50" x2="133.40" y2="315.50" stroke="#000" stroke-width="1.4" />
<rect x="67.60" y="273.90" width="14.50" height="41.60" fill="#000" stroke="#000" stroke-width="1.4"/>
<line x1="98.25" y1="276.50" x2="98.25" y2="272.20" stroke="#000" stroke-width="1.2" />
<line x1="95.00" y1="272.20" x2="101.50" y2="272.20" stroke="#000" stroke-width="1.3" />
<rect x="91.00" y="277.20" width="14.50" height="38.30" fill="#fff" stroke="#000" stroke-width="1.4"/>
<line x1="121.35" y1="275.00" x2="121.35" y2="270.40" stroke="#000" stroke-width="1.2" />
<line x1="118.10" y1="270.40" x2="124.60" y2="270.40" stroke="#000" stroke-width="1.3" />
<rect x="114.20" y="275.70" width="14.30" height="39.80" fill="#888" stroke="#000" stroke-width="1.4"/>
<text x="106.00" y="331.80" font-size="11" font-weight="bold" font-style="normal" text-anchor="middle" fill="#000" stroke="#000" stroke-width="0.2" >Blimp1</text>
<line x1="163.40" y1="245.20" x2="163.40" y2="316.60" stroke="#000" stroke-width="1.2" />
<line x1="160.60" y1="246.00" x2="163.40" y2="246.00" stroke="#000" stroke-width="1.2" />
<line x1="160.60" y1="260.05" x2="163.40" y2="260.05" stroke="#000" stroke-width="1.2" />
<line x1="160.60" y1="274.10" x2="163.40" y2="274.10" stroke="#000" stroke-width="1.2" />
<line x1="160.60" y1="288.15" x2="163.40" y2="288.15" stroke="#000" stroke-width="1.2" />
<line x1="160.60" y1="302.20" x2="163.40" y2="302.20" stroke="#000" stroke-width="1.2" />
<line x1="160.60" y1="316.25" x2="163.40" y2="316.25" stroke="#000" stroke-width="1.2" />
<text x="155.00" y="249.97" font-size="8.8" text-anchor="end" stroke="#000" stroke-width="0.28">2<tspan font-size="5.8" dx="0.70" dy="-4.04" stroke-width="0.15">2</tspan></text>
<text x="155.00" y="264.02" font-size="8.8" text-anchor="end" stroke="#000" stroke-width="0.28">2<tspan font-size="5.8" dx="0.70" dy="-4.04" stroke-width="0.15">1</tspan></text>
<text x="155.00" y="278.07" font-size="8.8" text-anchor="end" stroke="#000" stroke-width="0.28">2<tspan font-size="5.8" dx="0.70" dy="-4.04" stroke-width="0.15">0</tspan></text>
<text x="155.00" y="292.12" font-size="8.8" text-anchor="end" stroke="#000" stroke-width="0.28">2<tspan font-size="5.8" dx="0.70" dy="-4.04" stroke-width="0.15">-1</tspan></text>
<text x="155.00" y="306.17" font-size="8.8" text-anchor="end" stroke="#000" stroke-width="0.28">2<tspan font-size="5.8" dx="0.70" dy="-4.04" stroke-width="0.15">-2</tspan></text>
<text x="155.00" y="320.22" font-size="8.8" text-anchor="end" stroke="#000" stroke-width="0.28">2<tspan font-size="5.8" dx="0.70" dy="-4.04" stroke-width="0.15">-3</tspan></text>
<line x1="162.80" y1="316.00" x2="233.40" y2="316.00" stroke="#000" stroke-width="1.4" />
<rect x="167.70" y="274.80" width="14.50" height="41.20" fill="#000" stroke="#000" stroke-width="1.4"/>
<line x1="198.45" y1="274.80" x2="198.45" y2="270.50" stroke="#000" stroke-width="1.2" />
<line x1="195.20" y1="270.50" x2="201.70" y2="270.50" stroke="#000" stroke-width="1.3" />
<rect x="191.40" y="275.50" width="14.10" height="40.50" fill="#fff" stroke="#000" stroke-width="1.4"/>
<line x1="221.80" y1="285.80" x2="221.80" y2="274.10" stroke="#000" stroke-width="1.2" />
<line x1="218.55" y1="274.10" x2="225.05" y2="274.10" stroke="#000" stroke-width="1.3" />
<rect x="214.90" y="286.50" width="13.80" height="29.50" fill="#888" stroke="#000" stroke-width="1.4"/>
<text x="195.80" y="331.80" font-size="11" font-weight="bold" font-style="normal" text-anchor="middle" fill="#000" stroke="#000" stroke-width="0.2" >Bcl-6</text>
<line x1="62.90" y1="349.50" x2="62.90" y2="420.50" stroke="#000" stroke-width="1.2" />
<line x1="60.10" y1="350.30" x2="62.90" y2="350.30" stroke="#000" stroke-width="1.2" />
<line x1="60.10" y1="364.30" x2="62.90" y2="364.30" stroke="#000" stroke-width="1.2" />
<line x1="60.10" y1="378.30" x2="62.90" y2="378.30" stroke="#000" stroke-width="1.2" />
<line x1="60.10" y1="392.30" x2="62.90" y2="392.30" stroke="#000" stroke-width="1.2" />
<line x1="60.10" y1="406.30" x2="62.90" y2="406.30" stroke="#000" stroke-width="1.2" />
<line x1="60.10" y1="420.30" x2="62.90" y2="420.30" stroke="#000" stroke-width="1.2" />
<text x="54.10" y="353.27" font-size="8.8" text-anchor="end" stroke="#000" stroke-width="0.28">2<tspan font-size="5.8" dx="0.70" dy="-4.04" stroke-width="0.15">2</tspan></text>
<text x="54.10" y="367.27" font-size="8.8" text-anchor="end" stroke="#000" stroke-width="0.28">2<tspan font-size="5.8" dx="0.70" dy="-4.04" stroke-width="0.15">1</tspan></text>
<text x="54.10" y="381.27" font-size="8.8" text-anchor="end" stroke="#000" stroke-width="0.28">2<tspan font-size="5.8" dx="0.70" dy="-4.04" stroke-width="0.15">0</tspan></text>
<text x="54.10" y="395.27" font-size="8.8" text-anchor="end" stroke="#000" stroke-width="0.28">2<tspan font-size="5.8" dx="0.70" dy="-4.04" stroke-width="0.15">-1</tspan></text>
<text x="54.10" y="409.27" font-size="8.8" text-anchor="end" stroke="#000" stroke-width="0.28">2<tspan font-size="5.8" dx="0.70" dy="-4.04" stroke-width="0.15">-2</tspan></text>
<text x="54.10" y="423.27" font-size="8.8" text-anchor="end" stroke="#000" stroke-width="0.28">2<tspan font-size="5.8" dx="0.70" dy="-4.04" stroke-width="0.15">-3</tspan></text>
<line x1="62.30" y1="419.90" x2="132.90" y2="419.90" stroke="#000" stroke-width="1.4" />
<rect x="67.10" y="378.90" width="14.70" height="41.00" fill="#000" stroke="#000" stroke-width="1.4"/>
<line x1="98.00" y1="381.80" x2="98.00" y2="377.60" stroke="#000" stroke-width="1.2" />
<line x1="94.75" y1="377.60" x2="101.25" y2="377.60" stroke="#000" stroke-width="1.3" />
<rect x="91.00" y="382.50" width="14.00" height="37.40" fill="#fff" stroke="#000" stroke-width="1.4"/>
<line x1="121.50" y1="399.40" x2="121.50" y2="396.60" stroke="#000" stroke-width="1.2" />
<line x1="118.25" y1="396.60" x2="124.75" y2="396.60" stroke="#000" stroke-width="1.3" />
<rect x="114.30" y="400.10" width="14.40" height="19.80" fill="#888" stroke="#000" stroke-width="1.4"/>
<text x="97.50" y="436.80" font-size="11" font-weight="bold" font-style="normal" text-anchor="middle" fill="#000" stroke="#000" stroke-width="0.2" >ID2</text>
<line x1="163.40" y1="349.80" x2="163.40" y2="420.60" stroke="#000" stroke-width="1.2" />
<line x1="160.60" y1="349.90" x2="163.40" y2="349.90" stroke="#000" stroke-width="1.2" />
<line x1="160.60" y1="363.95" x2="163.40" y2="363.95" stroke="#000" stroke-width="1.2" />
<line x1="160.60" y1="378.00" x2="163.40" y2="378.00" stroke="#000" stroke-width="1.2" />
<line x1="160.60" y1="392.05" x2="163.40" y2="392.05" stroke="#000" stroke-width="1.2" />
<line x1="160.60" y1="406.10" x2="163.40" y2="406.10" stroke="#000" stroke-width="1.2" />
<line x1="160.60" y1="420.15" x2="163.40" y2="420.15" stroke="#000" stroke-width="1.2" />
<text x="154.90" y="353.17" font-size="8.8" text-anchor="end" stroke="#000" stroke-width="0.28">2<tspan font-size="5.8" dx="0.70" dy="-4.04" stroke-width="0.15">2</tspan></text>
<text x="154.90" y="367.22" font-size="8.8" text-anchor="end" stroke="#000" stroke-width="0.28">2<tspan font-size="5.8" dx="0.70" dy="-4.04" stroke-width="0.15">1</tspan></text>
<text x="154.90" y="381.27" font-size="8.8" text-anchor="end" stroke="#000" stroke-width="0.28">2<tspan font-size="5.8" dx="0.70" dy="-4.04" stroke-width="0.15">0</tspan></text>
<text x="154.90" y="395.32" font-size="8.8" text-anchor="end" stroke="#000" stroke-width="0.28">2<tspan font-size="5.8" dx="0.70" dy="-4.04" stroke-width="0.15">-1</tspan></text>
<text x="154.90" y="409.37" font-size="8.8" text-anchor="end" stroke="#000" stroke-width="0.28">2<tspan font-size="5.8" dx="0.70" dy="-4.04" stroke-width="0.15">-2</tspan></text>
<text x="154.90" y="423.42" font-size="8.8" text-anchor="end" stroke="#000" stroke-width="0.28">2<tspan font-size="5.8" dx="0.70" dy="-4.04" stroke-width="0.15">-3</tspan></text>
<line x1="162.80" y1="420.00" x2="233.40" y2="420.00" stroke="#000" stroke-width="1.4" />
<rect x="167.70" y="378.70" width="14.50" height="41.30" fill="#000" stroke="#000" stroke-width="1.4"/>
<line x1="198.45" y1="356.60" x2="198.45" y2="350.20" stroke="#000" stroke-width="1.2" />
<line x1="195.20" y1="350.20" x2="201.70" y2="350.20" stroke="#000" stroke-width="1.3" />
<rect x="191.40" y="357.30" width="14.10" height="62.70" fill="#fff" stroke="#000" stroke-width="1.4"/>
<line x1="221.80" y1="391.00" x2="221.80" y2="389.60" stroke="#000" stroke-width="1.2" />
<line x1="218.55" y1="389.60" x2="225.05" y2="389.60" stroke="#000" stroke-width="1.3" />
<rect x="214.90" y="391.70" width="13.80" height="28.30" fill="#888" stroke="#000" stroke-width="1.4"/>
<text x="200.60" y="437.00" font-size="11" font-weight="bold" font-style="normal" text-anchor="middle" fill="#000" stroke="#000" stroke-width="0.2" >ID3</text>
<line x1="62.90" y1="436.50" x2="62.90" y2="511.80" stroke="#000" stroke-width="1.2" />
<line x1="60.10" y1="448.60" x2="62.90" y2="448.60" stroke="#000" stroke-width="1.2" />
<line x1="60.10" y1="469.40" x2="62.90" y2="469.40" stroke="#000" stroke-width="1.2" />
<line x1="60.10" y1="490.20" x2="62.90" y2="490.20" stroke="#000" stroke-width="1.2" />
<line x1="60.10" y1="511.00" x2="62.90" y2="511.00" stroke="#000" stroke-width="1.2" />
<text x="54.40" y="453.67" font-size="8.8" text-anchor="end" stroke="#000" stroke-width="0.28">2<tspan font-size="5.8" dx="0.70" dy="-4.04" stroke-width="0.15">1</tspan></text>
<text x="54.40" y="474.47" font-size="8.8" text-anchor="end" stroke="#000" stroke-width="0.28">2<tspan font-size="5.8" dx="0.70" dy="-4.04" stroke-width="0.15">0</tspan></text>
<text x="54.40" y="495.27" font-size="8.8" text-anchor="end" stroke="#000" stroke-width="0.28">2<tspan font-size="5.8" dx="0.70" dy="-4.04" stroke-width="0.15">-1</tspan></text>
<text x="54.40" y="516.07" font-size="8.8" text-anchor="end" stroke="#000" stroke-width="0.28">2<tspan font-size="5.8" dx="0.70" dy="-4.04" stroke-width="0.15">-2</tspan></text>
<line x1="62.30" y1="511.20" x2="132.90" y2="511.20" stroke="#000" stroke-width="1.4" />
<rect x="67.70" y="470.10" width="13.20" height="41.10" fill="#000" stroke="#000" stroke-width="1.4"/>
<line x1="98.10" y1="475.50" x2="98.10" y2="467.70" stroke="#000" stroke-width="1.2" />
<line x1="94.85" y1="467.70" x2="101.35" y2="467.70" stroke="#000" stroke-width="1.3" />
<rect x="91.50" y="476.20" width="13.20" height="35.00" fill="#fff" stroke="#000" stroke-width="1.4"/>
<line x1="121.50" y1="474.40" x2="121.50" y2="470.20" stroke="#000" stroke-width="1.2" />
<line x1="118.25" y1="470.20" x2="124.75" y2="470.20" stroke="#000" stroke-width="1.3" />
<rect x="114.90" y="475.10" width="13.20" height="36.10" fill="#888" stroke="#000" stroke-width="1.4"/>
<text x="99.80" y="529.40" font-size="11" font-weight="bold" font-style="normal" text-anchor="middle" fill="#000" stroke="#000" stroke-width="0.2" >Tbet</text>
<line x1="163.40" y1="437.40" x2="163.40" y2="511.80" stroke="#000" stroke-width="1.2" />
<line x1="160.60" y1="442.50" x2="163.40" y2="442.50" stroke="#000" stroke-width="1.2" />
<line x1="160.60" y1="459.70" x2="163.40" y2="459.70" stroke="#000" stroke-width="1.2" />
<line x1="160.60" y1="476.90" x2="163.40" y2="476.90" stroke="#000" stroke-width="1.2" />
<line x1="160.60" y1="494.10" x2="163.40" y2="494.10" stroke="#000" stroke-width="1.2" />
<line x1="160.60" y1="511.30" x2="163.40" y2="511.30" stroke="#000" stroke-width="1.2" />
<text x="155.00" y="447.47" font-size="8.8" text-anchor="end" stroke="#000" stroke-width="0.28">2<tspan font-size="5.8" dx="0.70" dy="-4.04" stroke-width="0.15">2</tspan></text>
<text x="155.00" y="464.67" font-size="8.8" text-anchor="end" stroke="#000" stroke-width="0.28">2<tspan font-size="5.8" dx="0.70" dy="-4.04" stroke-width="0.15">1</tspan></text>
<text x="155.00" y="481.87" font-size="8.8" text-anchor="end" stroke="#000" stroke-width="0.28">2<tspan font-size="5.8" dx="0.70" dy="-4.04" stroke-width="0.15">0</tspan></text>
<text x="155.00" y="499.07" font-size="8.8" text-anchor="end" stroke="#000" stroke-width="0.28">2<tspan font-size="5.8" dx="0.70" dy="-4.04" stroke-width="0.15">-1</tspan></text>
<text x="155.00" y="516.27" font-size="8.8" text-anchor="end" stroke="#000" stroke-width="0.28">2<tspan font-size="5.8" dx="0.70" dy="-4.04" stroke-width="0.15">-2</tspan></text>
<line x1="162.80" y1="511.20" x2="233.40" y2="511.20" stroke="#000" stroke-width="1.4" />
<rect x="167.70" y="477.70" width="14.90" height="33.50" fill="#000" stroke="#000" stroke-width="1.4"/>
<line x1="198.45" y1="474.40" x2="198.45" y2="473.60" stroke="#000" stroke-width="1.2" />
<line x1="195.20" y1="473.60" x2="201.70" y2="473.60" stroke="#000" stroke-width="1.3" />
<rect x="191.40" y="475.10" width="14.10" height="36.10" fill="#fff" stroke="#000" stroke-width="1.4"/>
<line x1="222.00" y1="448.60" x2="222.00" y2="441.60" stroke="#000" stroke-width="1.2" />
<line x1="218.75" y1="441.60" x2="225.25" y2="441.60" stroke="#000" stroke-width="1.3" />
<rect x="215.30" y="449.30" width="13.40" height="61.90" fill="#888" stroke="#000" stroke-width="1.4"/>
<text x="197.70" y="529.40" font-size="11" font-weight="bold" font-style="normal" text-anchor="middle" fill="#000" stroke="#000" stroke-width="0.2" >Eomes</text>
<text x="273.30" y="288.80" font-size="16" font-weight="bold" font-style="normal" text-anchor="start" fill="#000" stroke="#000" stroke-width="0.2" >D</text>
<text x="336.40" y="298.20" font-size="12.4" font-weight="bold" font-style="normal" text-anchor="middle" fill="#000" stroke="#000" stroke-width="0.2" >Day 5</text>
<text x="465.00" y="298.20" font-size="12.4" font-weight="bold" font-style="normal" text-anchor="middle" fill="#000" stroke="#000" stroke-width="0.2" >Day 7</text>
<rect x="274.60" y="307.00" width="116.30" height="69.60" fill="none" stroke="#777" stroke-width="0.9"/>
<line x1="336.60" y1="350.70" x2="390.90" y2="350.70" stroke="#d0d0d0" stroke-width="0.8" stroke-dasharray="2,0.6"/>
<path d="M275.10,336.79 L275.90,335.45 L276.70,334.93 L277.50,334.57 L278.30,334.38 L279.10,332.75 L279.90,332.04 L280.70,331.89 L281.50,331.20 L282.30,331.03 L283.10,330.80 L283.90,329.28 L284.70,328.04 L285.50,328.44 L286.30,325.93 L287.10,326.48 L287.90,325.67 L288.70,325.35 L289.50,321.90 L290.30,321.71 L291.10,320.41 L291.90,320.26 L292.70,321.15 L293.50,319.35 L294.30,317.90 L295.10,318.29 L295.90,314.53 L296.70,315.67 L297.50,315.59 L298.30,312.31 L299.10,314.12 L299.90,310.28 L300.70,311.46 L301.50,310.59 L302.30,311.43 L303.10,310.89 L303.90,312.19 L304.70,313.08 L305.50,310.47 L306.30,314.03 L307.10,313.83 L307.90,318.41 L308.70,319.49 L309.50,324.10 L310.30,329.34 L311.10,334.39 L311.90,339.48 L312.70,343.45 L313.50,346.49 L314.30,348.53" fill="none" stroke="#a0a0a0" stroke-width="0.8" />
<path d="M287.50,358.80 L287.50,358.31 L288.00,358.28 L288.50,358.24 L289.00,358.21 L289.50,358.17 L290.00,358.14 L290.50,358.10 L291.00,358.06 L291.50,358.02 L292.00,357.98 L292.50,357.94 L293.00,357.89 L293.50,357.85 L294.00,357.80 L294.50,357.76 L295.00,357.71 L295.50,357.66 L296.00,357.62 L296.50,357.57 L297.00,357.52 L297.50,357.47 L298.00,357.42 L298.50,357.37 L299.00,357.32 L299.50,357.27 L300.00,357.22 L300.50,357.18 L301.00,357.13 L301.50,357.08 L302.00,357.04 L302.50,356.99 L303.00,356.95 L303.50,356.90 L304.00,356.86 L304.50,356.82 L305.00,356.78 L305.50,356.74 L306.00,356.70 L306.50,356.65 L307.00,356.60 L307.50,356.55 L308.00,356.48 L308.50,356.40 L309.00,356.30 L309.50,356.17 L310.00,356.00 L310.50,355.78 L311.00,355.49 L311.50,355.12 L312.00,354.66 L312.50,354.08 L313.00,353.37 L313.50,352.50 L314.00,351.46 L314.50,350.23 L315.00,348.80 L315.50,347.16 L316.00,345.30 L316.50,343.25 L317.00,341.02 L317.50,338.64 L318.00,336.16 L318.50,333.64 L319.00,331.13 L319.50,328.71 L320.00,326.45 L320.50,324.42 L321.00,322.71 L321.50,321.37 L322.00,320.45 L322.50,320.00 L323.00,320.01 L323.50,320.30 L324.00,320.84 L324.50,321.60 L325.00,322.58 L325.50,323.76 L326.00,325.11 L326.50,326.62 L327.00,328.26 L327.50,330.00 L328.00,331.81 L328.50,333.67 L329.00,335.56 L329.50,337.44 L330.00,339.29 L330.50,341.10 L331.00,342.85 L331.50,344.51 L332.00,346.09 L332.50,347.56 L333.00,348.93 L333.50,350.18 L334.00,351.33 L334.50,352.36 L335.00,353.29 L335.50,354.12 L336.00,354.84 L336.50,355.48 L337.00,356.03 L337.50,356.50 L338.00,356.91 L338.50,357.25 L339.00,357.54 L339.50,357.79 L340.00,357.99 L340.50,358.15 L341.00,358.29 L341.50,358.40 L342.00,358.48 L342.50,358.55 L343.00,358.61 L343.50,358.66 L344.00,358.69 L344.50,358.72 L345.00,358.74 L345.00,358.80 Z" fill="#8a8a8a" stroke="none" stroke-width="0" />
<path d="M275.10,367.70 L275.10,367.70 L275.60,367.70 L276.10,367.70 L276.60,367.70 L277.10,367.70 L277.60,367.70 L278.10,367.70 L278.60,367.70 L279.10,367.70 L279.60,367.70 L280.10,367.70 L280.60,367.70 L281.10,367.70 L281.60,367.70 L282.10,367.69 L282.60,367.69 L283.10,367.69 L283.60,367.69 L284.10,367.69 L284.60,367.68 L285.10,367.68 L285.60,367.67 L286.10,367.67 L286.60,367.66 L287.10,367.65 L287.60,367.64 L288.10,367.63 L288.60,367.62 L289.10,367.60 L289.60,367.58 L290.10,367.56 L290.60,367.53 L291.10,367.50 L291.60,367.46 L292.10,367.42 L292.60,367.37 L293.10,367.32 L293.60,367.25 L294.10,367.17 L294.60,367.09 L295.10,366.99 L295.60,366.88 L296.10,366.75 L296.60,366.61 L297.10,366.44 L297.60,366.26 L298.10,366.06 L298.60,365.83 L299.10,365.58 L299.60,365.29 L300.10,364.98 L300.60,364.64 L301.10,364.26 L301.60,363.85 L302.10,363.40 L302.60,362.91 L303.10,362.38 L303.60,361.81 L304.10,361.19 L304.60,360.53 L305.10,359.83 L305.60,359.08 L306.10,358.28 L306.60,357.44 L307.10,356.55 L307.60,355.62 L308.10,354.65 L308.60,353.64 L309.10,352.60 L309.60,351.52 L310.10,350.41 L310.60,349.28 L311.10,348.13 L311.60,346.96 L312.10,345.79 L312.60,344.61 L313.10,343.43 L313.60,342.27 L314.10,341.13 L314.60,340.01 L315.10,338.92 L315.60,337.87 L316.10,336.87 L316.60,335.93 L317.10,335.04 L317.60,334.23 L318.10,333.49 L318.60,332.83 L319.10,332.25 L319.60,331.77 L320.10,331.38 L320.60,331.09 L321.10,330.89 L321.60,330.80 L322.10,330.85 L322.60,331.23 L323.10,331.93 L323.60,332.94 L324.10,334.23 L324.60,335.77 L325.10,337.52 L325.60,339.44 L326.10,341.48 L326.60,343.60 L327.10,345.74 L327.60,347.89 L328.10,349.98 L328.60,352.00 L329.10,353.92 L329.60,355.72 L330.10,357.37 L330.60,358.88 L331.10,360.24 L331.60,361.45 L332.10,362.51 L332.60,363.43 L333.10,364.22 L333.60,364.89 L334.10,365.45 L334.60,365.92 L335.10,366.30 L335.60,366.61 L336.10,366.86 L336.60,367.06 L337.10,367.21 L337.60,367.33 L338.10,367.43 L338.60,367.50 L339.10,367.55 L339.60,367.59 L340.10,367.62 L340.60,367.65 L341.10,367.66 L341.60,367.67 L342.10,367.68 L342.60,367.69 L343.10,367.69 L343.60,367.69 L344.10,367.70 L344.60,367.70 L345.00,367.70 Z" fill="#fff" stroke="none" stroke-width="0" />
<path d="M275.10,367.70 L275.60,367.70 L276.10,367.70 L276.60,367.70 L277.10,367.70 L277.60,367.70 L278.10,367.70 L278.60,367.70 L279.10,367.70 L279.60,367.70 L280.10,367.70 L280.60,367.70 L281.10,367.70 L281.60,367.70 L282.10,367.69 L282.60,367.69 L283.10,367.69 L283.60,367.69 L284.10,367.69 L284.60,367.68 L285.10,367.68 L285.60,367.67 L286.10,367.67 L286.60,367.66 L287.10,367.65 L287.60,367.64 L288.10,367.63 L288.60,367.62 L289.10,367.60 L289.60,367.58 L290.10,367.56 L290.60,367.53 L291.10,367.50 L291.60,367.46 L292.10,367.42 L292.60,367.37 L293.10,367.32 L293.60,367.25 L294.10,367.17 L294.60,367.09 L295.10,366.99 L295.60,366.88 L296.10,366.75 L296.60,366.61 L297.10,366.44 L297.60,366.26 L298.10,366.06 L298.60,365.83 L299.10,365.58 L299.60,365.29 L300.10,364.98 L300.60,364.64 L301.10,364.26 L301.60,363.85 L302.10,363.40 L302.60,362.91 L303.10,362.38 L303.60,361.81 L304.10,361.19 L304.60,360.53 L305.10,359.83 L305.60,359.08 L306.10,358.28 L306.60,357.44 L307.10,356.55 L307.60,355.62 L308.10,354.65 L308.60,353.64 L309.10,352.60 L309.60,351.52 L310.10,350.41 L310.60,349.28 L311.10,348.13 L311.60,346.96 L312.10,345.79 L312.60,344.61 L313.10,343.43 L313.60,342.27 L314.10,341.13 L314.60,340.01 L315.10,338.92 L315.60,337.87 L316.10,336.87 L316.60,335.93 L317.10,335.04 L317.60,334.23 L318.10,333.49 L318.60,332.83 L319.10,332.25 L319.60,331.77 L320.10,331.38 L320.60,331.09 L321.10,330.89 L321.60,330.80 L322.10,330.85 L322.60,331.23 L323.10,331.93 L323.60,332.94 L324.10,334.23 L324.60,335.77 L325.10,337.52 L325.60,339.44 L326.10,341.48 L326.60,343.60 L327.10,345.74 L327.60,347.89 L328.10,349.98 L328.60,352.00 L329.10,353.92 L329.60,355.72 L330.10,357.37 L330.60,358.88 L331.10,360.24 L331.60,361.45 L332.10,362.51 L332.60,363.43 L333.10,364.22 L333.60,364.89 L334.10,365.45 L334.60,365.92 L335.10,366.30 L335.60,366.61 L336.10,366.86 L336.60,367.06 L337.10,367.21 L337.60,367.33 L338.10,367.43 L338.60,367.50 L339.10,367.55 L339.60,367.59 L340.10,367.62 L340.60,367.65 L341.10,367.66 L341.60,367.67 L342.10,367.68 L342.60,367.69 L343.10,367.69 L343.60,367.69 L344.10,367.70 L344.60,367.70" fill="none" stroke="#3a3a3a" stroke-width="0.8" />
<line x1="345.00" y1="367.70" x2="390.90" y2="367.70" stroke="#9a9a9a" stroke-width="0.9" />
<path d="M300.00,376.40 L300.00,376.36 L300.50,376.36 L301.00,376.35 L301.50,376.34 L302.00,376.33 L302.50,376.32 L303.00,376.30 L303.50,376.28 L304.00,376.26 L304.50,376.24 L305.00,376.21 L305.50,376.18 L306.00,376.14 L306.50,376.09 L307.00,376.03 L307.50,375.95 L308.00,375.85 L308.50,375.73 L309.00,375.58 L309.50,375.40 L310.00,375.17 L310.50,374.88 L311.00,374.53 L311.50,374.10 L312.00,373.58 L312.50,372.95 L313.00,372.21 L313.50,371.33 L314.00,370.30 L314.50,369.12 L315.00,367.77 L315.50,366.25 L316.00,364.56 L316.50,362.69 L317.00,360.68 L317.50,358.53 L318.00,356.26 L318.50,353.91 L319.00,351.53 L319.50,349.15 L320.00,346.82 L320.50,344.60 L321.00,342.54 L321.50,340.70 L322.00,339.12 L322.50,337.85 L323.00,336.92 L323.50,336.36 L324.00,336.20 L324.50,336.47 L325.00,337.19 L325.50,338.34 L326.00,339.89 L326.50,341.78 L327.00,343.95 L327.50,346.34 L328.00,348.88 L328.50,351.49 L329.00,354.11 L329.50,356.69 L330.00,359.17 L330.50,361.51 L331.00,363.68 L331.50,365.66 L332.00,367.43 L332.50,369.00 L333.00,370.36 L333.50,371.52 L334.00,372.51 L334.50,373.33 L335.00,374.00 L335.50,374.54 L336.00,374.98 L336.50,375.32 L337.00,375.59 L337.50,375.80 L338.00,375.96 L338.50,376.08 L339.00,376.16 L339.50,376.23 L340.00,376.28 L340.50,376.31 L341.00,376.34 L341.50,376.36 L342.00,376.37 L342.50,376.38 L343.00,376.38 L343.50,376.39 L344.00,376.39 L344.50,376.39 L345.00,376.40 L345.00,376.40 Z" fill="#000" stroke="none" stroke-width="0" />
<line x1="274.30" y1="376.60" x2="390.90" y2="376.60" stroke="#000" stroke-width="1.3" />
<line x1="275.60" y1="376.60" x2="275.60" y2="377.80" stroke="#777" stroke-width="0.5" />
<line x1="277.80" y1="376.60" x2="277.80" y2="377.80" stroke="#777" stroke-width="0.5" />
<line x1="280.00" y1="376.60" x2="280.00" y2="377.80" stroke="#777" stroke-width="0.5" />
<line x1="282.20" y1="376.60" x2="282.20" y2="377.80" stroke="#777" stroke-width="0.5" />
<line x1="284.40" y1="376.60" x2="284.40" y2="377.80" stroke="#777" stroke-width="0.5" />
<line x1="286.60" y1="376.60" x2="286.60" y2="377.80" stroke="#777" stroke-width="0.5" />
<line x1="288.80" y1="376.60" x2="288.80" y2="377.80" stroke="#777" stroke-width="0.5" />
<line x1="291.00" y1="376.60" x2="291.00" y2="377.80" stroke="#777" stroke-width="0.5" />
<line x1="293.20" y1="376.60" x2="293.20" y2="377.80" stroke="#777" stroke-width="0.5" />
<line x1="295.40" y1="376.60" x2="295.40" y2="377.80" stroke="#777" stroke-width="0.5" />
<line x1="297.60" y1="376.60" x2="297.60" y2="377.80" stroke="#777" stroke-width="0.5" />
<line x1="299.80" y1="376.60" x2="299.80" y2="377.80" stroke="#777" stroke-width="0.5" />
<line x1="302.00" y1="376.60" x2="302.00" y2="377.80" stroke="#777" stroke-width="0.5" />
<line x1="304.20" y1="376.60" x2="304.20" y2="377.80" stroke="#777" stroke-width="0.5" />
<line x1="306.40" y1="376.60" x2="306.40" y2="377.80" stroke="#777" stroke-width="0.5" />
<line x1="308.60" y1="376.60" x2="308.60" y2="377.80" stroke="#777" stroke-width="0.5" />
<line x1="310.80" y1="376.60" x2="310.80" y2="377.80" stroke="#777" stroke-width="0.5" />
<line x1="313.00" y1="376.60" x2="313.00" y2="377.80" stroke="#777" stroke-width="0.5" />
<line x1="315.20" y1="376.60" x2="315.20" y2="377.80" stroke="#777" stroke-width="0.5" />
<line x1="317.40" y1="376.60" x2="317.40" y2="377.80" stroke="#777" stroke-width="0.5" />
<line x1="319.60" y1="376.60" x2="319.60" y2="377.80" stroke="#777" stroke-width="0.5" />
<line x1="321.80" y1="376.60" x2="321.80" y2="377.80" stroke="#777" stroke-width="0.5" />
<line x1="324.00" y1="376.60" x2="324.00" y2="377.80" stroke="#777" stroke-width="0.5" />
<line x1="326.20" y1="376.60" x2="326.20" y2="377.80" stroke="#777" stroke-width="0.5" />
<line x1="328.40" y1="376.60" x2="328.40" y2="377.80" stroke="#777" stroke-width="0.5" />
<line x1="330.60" y1="376.60" x2="330.60" y2="377.80" stroke="#777" stroke-width="0.5" />
<line x1="332.80" y1="376.60" x2="332.80" y2="377.80" stroke="#777" stroke-width="0.5" />
<line x1="335.00" y1="376.60" x2="335.00" y2="377.80" stroke="#777" stroke-width="0.5" />
<line x1="337.20" y1="376.60" x2="337.20" y2="377.80" stroke="#777" stroke-width="0.5" />
<line x1="339.40" y1="376.60" x2="339.40" y2="377.80" stroke="#777" stroke-width="0.5" />
<line x1="341.60" y1="376.60" x2="341.60" y2="377.80" stroke="#777" stroke-width="0.5" />
<line x1="343.80" y1="376.60" x2="343.80" y2="377.80" stroke="#777" stroke-width="0.5" />
<line x1="346.00" y1="376.60" x2="346.00" y2="377.80" stroke="#777" stroke-width="0.5" />
<line x1="348.20" y1="376.60" x2="348.20" y2="377.80" stroke="#777" stroke-width="0.5" />
<line x1="350.40" y1="376.60" x2="350.40" y2="377.80" stroke="#777" stroke-width="0.5" />
<line x1="352.60" y1="376.60" x2="352.60" y2="377.80" stroke="#777" stroke-width="0.5" />
<line x1="354.80" y1="376.60" x2="354.80" y2="377.80" stroke="#777" stroke-width="0.5" />
<line x1="357.00" y1="376.60" x2="357.00" y2="377.80" stroke="#777" stroke-width="0.5" />
<line x1="359.20" y1="376.60" x2="359.20" y2="377.80" stroke="#777" stroke-width="0.5" />
<line x1="361.40" y1="376.60" x2="361.40" y2="377.80" stroke="#777" stroke-width="0.5" />
<line x1="363.60" y1="376.60" x2="363.60" y2="377.80" stroke="#777" stroke-width="0.5" />
<line x1="365.80" y1="376.60" x2="365.80" y2="377.80" stroke="#777" stroke-width="0.5" />
<line x1="368.00" y1="376.60" x2="368.00" y2="377.80" stroke="#777" stroke-width="0.5" />
<line x1="370.20" y1="376.60" x2="370.20" y2="377.80" stroke="#777" stroke-width="0.5" />
<line x1="372.40" y1="376.60" x2="372.40" y2="377.80" stroke="#777" stroke-width="0.5" />
<line x1="374.60" y1="376.60" x2="374.60" y2="377.80" stroke="#777" stroke-width="0.5" />
<line x1="376.80" y1="376.60" x2="376.80" y2="377.80" stroke="#777" stroke-width="0.5" />
<line x1="379.00" y1="376.60" x2="379.00" y2="377.80" stroke="#777" stroke-width="0.5" />
<line x1="381.20" y1="376.60" x2="381.20" y2="377.80" stroke="#777" stroke-width="0.5" />
<line x1="383.40" y1="376.60" x2="383.40" y2="377.80" stroke="#777" stroke-width="0.5" />
<line x1="385.60" y1="376.60" x2="385.60" y2="377.80" stroke="#777" stroke-width="0.5" />
<line x1="387.80" y1="376.60" x2="387.80" y2="377.80" stroke="#777" stroke-width="0.5" />
<text x="340.60" y="358.00" font-size="8.6" font-weight="bold" font-style="normal" text-anchor="start" fill="#000" stroke="#000" stroke-width="0.2" >715</text>
<text x="340.60" y="366.80" font-size="8.6" font-weight="bold" font-style="normal" text-anchor="start" fill="#000" stroke="#000" stroke-width="0.2" >569</text>
<text x="340.60" y="375.30" font-size="8.6" font-weight="bold" font-style="normal" text-anchor="start" fill="#000" stroke="#000" stroke-width="0.2" >788</text>
<rect x="401.80" y="307.20" width="116.70" height="69.60" fill="none" stroke="#777" stroke-width="0.9"/>
<line x1="457.70" y1="346.00" x2="518.50" y2="346.00" stroke="#d0d0d0" stroke-width="0.8" stroke-dasharray="2,0.6"/>
<path d="M402.30,339.87 L403.10,339.15 L403.90,338.39 L404.70,337.56 L405.50,336.68 L406.30,335.75 L407.10,335.13 L407.90,333.48 L408.70,332.44 L409.50,331.52 L410.30,330.75 L411.10,328.60 L411.90,327.29 L412.70,326.55 L413.50,325.28 L414.30,324.58 L415.10,323.86 L415.90,321.74 L416.70,319.94 L417.50,320.10 L418.30,316.91 L419.10,317.39 L419.90,316.34 L420.70,315.96 L421.50,311.98 L422.30,311.96 L423.10,310.74 L423.90,310.99 L424.70,312.50 L425.50,311.07 L426.30,310.19 L427.10,311.41 L427.90,308.37 L428.70,310.76 L429.50,312.17 L430.30,310.90 L431.10,314.56 L431.90,313.64 L432.70,316.97 L433.50,318.74 L434.30,321.45 L435.10,323.34 L435.90,326.21 L436.70,328.65 L437.50,329.39 L438.30,332.41 L439.10,333.63 L439.90,335.74 L440.70,337.34 L441.50,338.77" fill="none" stroke="#a0a0a0" stroke-width="0.8" />
<path d="M408.50,356.60 L408.50,356.60 L409.00,356.59 L409.50,356.59 L410.00,356.59 L410.50,356.59 L411.00,356.58 L411.50,356.58 L412.00,356.57 L412.50,356.56 L413.00,356.55 L413.50,356.54 L414.00,356.53 L414.50,356.51 L415.00,356.49 L415.50,356.46 L416.00,356.43 L416.50,356.39 L417.00,356.34 L417.50,356.29 L418.00,356.23 L418.50,356.15 L419.00,356.06 L419.50,355.96 L420.00,355.85 L420.50,355.72 L421.00,355.57 L421.50,355.40 L422.00,355.22 L422.50,355.01 L423.00,354.78 L423.50,354.52 L424.00,354.25 L424.50,353.95 L425.00,353.62 L425.50,353.28 L426.00,352.91 L426.50,352.53 L427.00,352.12 L427.50,351.70 L428.00,351.27 L428.50,350.83 L429.00,350.38 L429.50,349.93 L430.00,349.48 L430.50,349.03 L431.00,348.60 L431.50,348.17 L432.00,347.76 L432.50,347.36 L433.00,346.97 L433.50,346.60 L434.00,346.24 L434.50,345.88 L435.00,345.52 L435.50,345.16 L436.00,344.77 L436.50,344.40 L437.00,344.10 L437.50,343.82 L438.00,343.55 L438.50,343.25 L439.00,342.87 L439.50,342.40 L440.00,341.79 L440.50,341.01 L441.00,340.06 L441.50,338.92 L442.00,337.59 L442.50,336.09 L443.00,334.44 L443.50,332.68 L444.00,330.86 L444.50,329.01 L445.00,327.20 L445.50,325.48 L446.00,323.92 L446.50,322.56 L447.00,321.45 L447.50,320.64 L448.00,320.15 L448.50,320.00 L449.00,320.25 L449.50,320.93 L450.00,322.03 L450.50,323.50 L451.00,325.29 L451.50,327.35 L452.00,329.61 L452.50,331.99 L453.00,334.45 L453.50,336.90 L454.00,339.29 L454.50,341.58 L455.00,343.73 L455.50,345.71 L456.00,347.49 L456.50,349.08 L457.00,350.47 L457.50,351.66 L458.00,352.67 L458.50,353.51 L459.00,354.20 L459.50,354.76 L460.00,355.21 L460.50,355.56 L461.00,355.83 L461.50,356.04 L462.00,356.19 L462.50,356.31 L463.00,356.40 L463.50,356.46 L464.00,356.50 L464.50,356.53 L465.00,356.56 L465.50,356.57 L466.00,356.58 L466.50,356.59 L467.00,356.59 L467.50,356.60 L468.00,356.60 L468.50,356.60 L469.00,356.60 L469.50,356.60 L470.00,356.60 L470.00,356.60 Z" fill="#8a8a8a" stroke="none" stroke-width="0" />
<path d="M402.30,366.50 L402.30,366.50 L402.80,366.50 L403.30,366.50 L403.80,366.50 L404.30,366.50 L404.80,366.50 L405.30,366.50 L405.80,366.50 L406.30,366.50 L406.80,366.50 L407.30,366.50 L407.80,366.50 L408.30,366.50 L408.80,366.50 L409.30,366.50 L409.80,366.50 L410.30,366.50 L410.80,366.50 L411.30,366.50 L411.80,366.50 L412.30,366.50 L412.80,366.50 L413.30,366.50 L413.80,366.49 L414.30,366.49 L414.80,366.49 L415.30,366.49 L415.80,366.48 L416.30,366.48 L416.80,366.47 L417.30,366.47 L417.80,366.46 L418.30,366.45 L418.80,366.43 L419.30,366.41 L419.80,366.39 L420.30,366.36 L420.80,366.33 L421.30,366.29 L421.80,366.24 L422.30,366.18 L422.80,366.11 L423.30,366.02 L423.80,365.92 L424.30,365.80 L424.80,365.66 L425.30,365.49 L425.80,365.29 L426.30,365.07 L426.80,364.81 L427.30,364.50 L427.80,364.16 L428.30,363.77 L428.80,363.33 L429.30,362.84 L429.80,362.28 L430.30,361.66 L430.80,360.98 L431.30,360.23 L431.80,359.41 L432.30,358.52 L432.80,357.55 L433.30,356.51 L433.80,355.40 L434.30,354.22 L434.80,352.98 L435.30,351.68 L435.80,350.32 L436.30,348.92 L436.80,347.48 L437.30,346.02 L437.80,344.54 L438.30,343.05 L438.80,341.58 L439.30,340.13 L439.80,338.73 L440.30,337.37 L440.80,336.09 L441.30,334.89 L441.80,333.79 L442.30,332.80 L442.80,331.94 L443.30,331.21 L443.80,330.62 L444.30,330.19 L444.80,329.91 L445.30,329.80 L445.80,329.93 L446.30,330.46 L446.80,331.39 L447.30,332.68 L447.80,334.28 L448.30,336.16 L448.80,338.25 L449.30,340.49 L449.80,342.82 L450.30,345.19 L450.80,347.53 L451.30,349.81 L451.80,351.98 L452.30,354.01 L452.80,355.87 L453.30,357.56 L453.80,359.07 L454.30,360.39 L454.80,361.53 L455.30,362.51 L455.80,363.33 L456.30,364.01 L456.80,364.56 L457.30,365.01 L457.80,365.37 L458.30,365.65 L458.80,365.87 L459.30,366.04 L459.80,366.16 L460.30,366.26 L460.80,366.33 L461.30,366.38 L461.80,366.42 L462.30,366.44 L462.80,366.46 L463.30,366.47 L463.80,366.48 L464.30,366.49 L464.80,366.49 L465.30,366.50 L465.80,366.50 L466.30,366.50 L466.80,366.50 L467.30,366.50 L467.80,366.50 L468.30,366.50 L468.80,366.50 L469.30,366.50 L469.80,366.50 L470.00,366.50 Z" fill="#fff" stroke="none" stroke-width="0" />
<path d="M402.30,366.50 L402.80,366.50 L403.30,366.50 L403.80,366.50 L404.30,366.50 L404.80,366.50 L405.30,366.50 L405.80,366.50 L406.30,366.50 L406.80,366.50 L407.30,366.50 L407.80,366.50 L408.30,366.50 L408.80,366.50 L409.30,366.50 L409.80,366.50 L410.30,366.50 L410.80,366.50 L411.30,366.50 L411.80,366.50 L412.30,366.50 L412.80,366.50 L413.30,366.50 L413.80,366.49 L414.30,366.49 L414.80,366.49 L415.30,366.49 L415.80,366.48 L416.30,366.48 L416.80,366.47 L417.30,366.47 L417.80,366.46 L418.30,366.45 L418.80,366.43 L419.30,366.41 L419.80,366.39 L420.30,366.36 L420.80,366.33 L421.30,366.29 L421.80,366.24 L422.30,366.18 L422.80,366.11 L423.30,366.02 L423.80,365.92 L424.30,365.80 L424.80,365.66 L425.30,365.49 L425.80,365.29 L426.30,365.07 L426.80,364.81 L427.30,364.50 L427.80,364.16 L428.30,363.77 L428.80,363.33 L429.30,362.84 L429.80,362.28 L430.30,361.66 L430.80,360.98 L431.30,360.23 L431.80,359.41 L432.30,358.52 L432.80,357.55 L433.30,356.51 L433.80,355.40 L434.30,354.22 L434.80,352.98 L435.30,351.68 L435.80,350.32 L436.30,348.92 L436.80,347.48 L437.30,346.02 L437.80,344.54 L438.30,343.05 L438.80,341.58 L439.30,340.13 L439.80,338.73 L440.30,337.37 L440.80,336.09 L441.30,334.89 L441.80,333.79 L442.30,332.80 L442.80,331.94 L443.30,331.21 L443.80,330.62 L444.30,330.19 L444.80,329.91 L445.30,329.80 L445.80,329.93 L446.30,330.46 L446.80,331.39 L447.30,332.68 L447.80,334.28 L448.30,336.16 L448.80,338.25 L449.30,340.49 L449.80,342.82 L450.30,345.19 L450.80,347.53 L451.30,349.81 L451.80,351.98 L452.30,354.01 L452.80,355.87 L453.30,357.56 L453.80,359.07 L454.30,360.39 L454.80,361.53 L455.30,362.51 L455.80,363.33 L456.30,364.01 L456.80,364.56 L457.30,365.01 L457.80,365.37 L458.30,365.65 L458.80,365.87 L459.30,366.04 L459.80,366.16 L460.30,366.26 L460.80,366.33 L461.30,366.38 L461.80,366.42 L462.30,366.44 L462.80,366.46 L463.30,366.47 L463.80,366.48 L464.30,366.49 L464.80,366.49 L465.30,366.50 L465.80,366.50 L466.30,366.50 L466.80,366.50 L467.30,366.50 L467.80,366.50 L468.30,366.50 L468.80,366.50 L469.30,366.50 L469.80,366.50" fill="none" stroke="#3a3a3a" stroke-width="0.8" />
<line x1="470.00" y1="366.50" x2="518.50" y2="366.50" stroke="#9a9a9a" stroke-width="0.9" />
<path d="M425.00,376.40 L425.00,376.38 L425.50,376.38 L426.00,376.37 L426.50,376.36 L427.00,376.36 L427.50,376.35 L428.00,376.33 L428.50,376.32 L429.00,376.30 L429.50,376.28 L430.00,376.25 L430.50,376.22 L431.00,376.17 L431.50,376.12 L432.00,376.05 L432.50,375.97 L433.00,375.85 L433.50,375.71 L434.00,375.53 L434.50,375.30 L435.00,375.00 L435.50,374.63 L436.00,374.16 L436.50,373.59 L437.00,372.88 L437.50,372.03 L438.00,371.01 L438.50,369.81 L439.00,368.42 L439.50,366.84 L440.00,365.05 L440.50,363.08 L441.00,360.93 L441.50,358.65 L442.00,356.26 L442.50,353.82 L443.00,351.39 L443.50,349.03 L444.00,346.81 L444.50,344.80 L445.00,343.07 L445.50,341.68 L446.00,340.69 L446.50,340.12 L447.00,340.00 L447.50,340.36 L448.00,341.18 L448.50,342.43 L449.00,344.07 L449.50,346.04 L450.00,348.25 L450.50,350.65 L451.00,353.15 L451.50,355.68 L452.00,358.17 L452.50,360.58 L453.00,362.84 L453.50,364.92 L454.00,366.81 L454.50,368.49 L455.00,369.95 L455.50,371.21 L456.00,372.27 L456.50,373.15 L457.00,373.88 L457.50,374.46 L458.00,374.93 L458.50,375.29 L459.00,375.57 L459.50,375.79 L460.00,375.95 L460.50,376.07 L461.00,376.16 L461.50,376.23 L462.00,376.28 L462.50,376.31 L463.00,376.34 L463.50,376.36 L464.00,376.37 L464.50,376.38 L465.00,376.38 L465.50,376.39 L466.00,376.39 L466.50,376.39 L467.00,376.40 L467.50,376.40 L468.00,376.40 L468.50,376.40 L469.00,376.40 L469.50,376.40 L470.00,376.40 L470.00,376.40 Z" fill="#000" stroke="none" stroke-width="0" />
<line x1="401.50" y1="376.80" x2="518.50" y2="376.80" stroke="#000" stroke-width="1.3" />
<line x1="402.80" y1="376.80" x2="402.80" y2="378.00" stroke="#777" stroke-width="0.5" />
<line x1="405.00" y1="376.80" x2="405.00" y2="378.00" stroke="#777" stroke-width="0.5" />
<line x1="407.20" y1="376.80" x2="407.20" y2="378.00" stroke="#777" stroke-width="0.5" />
<line x1="409.40" y1="376.80" x2="409.40" y2="378.00" stroke="#777" stroke-width="0.5" />
<line x1="411.60" y1="376.80" x2="411.60" y2="378.00" stroke="#777" stroke-width="0.5" />
<line x1="413.80" y1="376.80" x2="413.80" y2="378.00" stroke="#777" stroke-width="0.5" />
<line x1="416.00" y1="376.80" x2="416.00" y2="378.00" stroke="#777" stroke-width="0.5" />
<line x1="418.20" y1="376.80" x2="418.20" y2="378.00" stroke="#777" stroke-width="0.5" />
<line x1="420.40" y1="376.80" x2="420.40" y2="378.00" stroke="#777" stroke-width="0.5" />
<line x1="422.60" y1="376.80" x2="422.60" y2="378.00" stroke="#777" stroke-width="0.5" />
<line x1="424.80" y1="376.80" x2="424.80" y2="378.00" stroke="#777" stroke-width="0.5" />
<line x1="427.00" y1="376.80" x2="427.00" y2="378.00" stroke="#777" stroke-width="0.5" />
<line x1="429.20" y1="376.80" x2="429.20" y2="378.00" stroke="#777" stroke-width="0.5" />
<line x1="431.40" y1="376.80" x2="431.40" y2="378.00" stroke="#777" stroke-width="0.5" />
<line x1="433.60" y1="376.80" x2="433.60" y2="378.00" stroke="#777" stroke-width="0.5" />
<line x1="435.80" y1="376.80" x2="435.80" y2="378.00" stroke="#777" stroke-width="0.5" />
<line x1="438.00" y1="376.80" x2="438.00" y2="378.00" stroke="#777" stroke-width="0.5" />
<line x1="440.20" y1="376.80" x2="440.20" y2="378.00" stroke="#777" stroke-width="0.5" />
<line x1="442.40" y1="376.80" x2="442.40" y2="378.00" stroke="#777" stroke-width="0.5" />
<line x1="444.60" y1="376.80" x2="444.60" y2="378.00" stroke="#777" stroke-width="0.5" />
<line x1="446.80" y1="376.80" x2="446.80" y2="378.00" stroke="#777" stroke-width="0.5" />
<line x1="449.00" y1="376.80" x2="449.00" y2="378.00" stroke="#777" stroke-width="0.5" />
<line x1="451.20" y1="376.80" x2="451.20" y2="378.00" stroke="#777" stroke-width="0.5" />
<line x1="453.40" y1="376.80" x2="453.40" y2="378.00" stroke="#777" stroke-width="0.5" />
<line x1="455.60" y1="376.80" x2="455.60" y2="378.00" stroke="#777" stroke-width="0.5" />
<line x1="457.80" y1="376.80" x2="457.80" y2="378.00" stroke="#777" stroke-width="0.5" />
<line x1="460.00" y1="376.80" x2="460.00" y2="378.00" stroke="#777" stroke-width="0.5" />
<line x1="462.20" y1="376.80" x2="462.20" y2="378.00" stroke="#777" stroke-width="0.5" />
<line x1="464.40" y1="376.80" x2="464.40" y2="378.00" stroke="#777" stroke-width="0.5" />
<line x1="466.60" y1="376.80" x2="466.60" y2="378.00" stroke="#777" stroke-width="0.5" />
<line x1="468.80" y1="376.80" x2="468.80" y2="378.00" stroke="#777" stroke-width="0.5" />
<line x1="471.00" y1="376.80" x2="471.00" y2="378.00" stroke="#777" stroke-width="0.5" />
<line x1="473.20" y1="376.80" x2="473.20" y2="378.00" stroke="#777" stroke-width="0.5" />
<line x1="475.40" y1="376.80" x2="475.40" y2="378.00" stroke="#777" stroke-width="0.5" />
<line x1="477.60" y1="376.80" x2="477.60" y2="378.00" stroke="#777" stroke-width="0.5" />
<line x1="479.80" y1="376.80" x2="479.80" y2="378.00" stroke="#777" stroke-width="0.5" />
<line x1="482.00" y1="376.80" x2="482.00" y2="378.00" stroke="#777" stroke-width="0.5" />
<line x1="484.20" y1="376.80" x2="484.20" y2="378.00" stroke="#777" stroke-width="0.5" />
<line x1="486.40" y1="376.80" x2="486.40" y2="378.00" stroke="#777" stroke-width="0.5" />
<line x1="488.60" y1="376.80" x2="488.60" y2="378.00" stroke="#777" stroke-width="0.5" />
<line x1="490.80" y1="376.80" x2="490.80" y2="378.00" stroke="#777" stroke-width="0.5" />
<line x1="493.00" y1="376.80" x2="493.00" y2="378.00" stroke="#777" stroke-width="0.5" />
<line x1="495.20" y1="376.80" x2="495.20" y2="378.00" stroke="#777" stroke-width="0.5" />
<line x1="497.40" y1="376.80" x2="497.40" y2="378.00" stroke="#777" stroke-width="0.5" />
<line x1="499.60" y1="376.80" x2="499.60" y2="378.00" stroke="#777" stroke-width="0.5" />
<line x1="501.80" y1="376.80" x2="501.80" y2="378.00" stroke="#777" stroke-width="0.5" />
<line x1="504.00" y1="376.80" x2="504.00" y2="378.00" stroke="#777" stroke-width="0.5" />
<line x1="506.20" y1="376.80" x2="506.20" y2="378.00" stroke="#777" stroke-width="0.5" />
<line x1="508.40" y1="376.80" x2="508.40" y2="378.00" stroke="#777" stroke-width="0.5" />
<line x1="510.60" y1="376.80" x2="510.60" y2="378.00" stroke="#777" stroke-width="0.5" />
<line x1="512.80" y1="376.80" x2="512.80" y2="378.00" stroke="#777" stroke-width="0.5" />
<line x1="515.00" y1="376.80" x2="515.00" y2="378.00" stroke="#777" stroke-width="0.5" />
<line x1="517.20" y1="376.80" x2="517.20" y2="378.00" stroke="#777" stroke-width="0.5" />
<text x="465.70" y="357.20" font-size="8.6" font-weight="bold" font-style="normal" text-anchor="start" fill="#000" stroke="#000" stroke-width="0.2" >554</text>
<text x="465.70" y="366.80" font-size="8.6" font-weight="bold" font-style="normal" text-anchor="start" fill="#000" stroke="#000" stroke-width="0.2" >428</text>
<text x="465.70" y="375.70" font-size="8.6" font-weight="bold" font-style="normal" text-anchor="start" fill="#000" stroke="#000" stroke-width="0.2" >572</text>
<text x="0" y="0" font-size="7" font-weight="bold" fill="#222" stroke="#222" stroke-width="0.12" transform="translate(284.90,384.90) scale(1,0.66)">0</text>
<text x="0" y="0" font-size="7" font-weight="bold" fill="#222" stroke="#222" stroke-width="0.12" transform="translate(293.60,384.90) scale(1,0.66)">10<tspan font-size="7" dx="0.3" dy="-3.6">2</tspan></text>
<text x="0" y="0" font-size="7" font-weight="bold" fill="#222" stroke="#222" stroke-width="0.12" transform="translate(321.00,384.90) scale(1,0.66)">10<tspan font-size="7" dx="0.3" dy="-3.6">3</tspan></text>
<text x="0" y="0" font-size="7" font-weight="bold" fill="#222" stroke="#222" stroke-width="0.12" transform="translate(348.00,384.90) scale(1,0.66)">10<tspan font-size="7" dx="0.3" dy="-3.6">4</tspan></text>
<text x="0" y="0" font-size="7" font-weight="bold" fill="#222" stroke="#222" stroke-width="0.12" transform="translate(373.60,384.90) scale(1,0.66)">10<tspan font-size="7" dx="0.3" dy="-3.6">5</tspan></text>
<text x="0" y="0" font-size="7" font-weight="bold" fill="#222" stroke="#222" stroke-width="0.12" transform="translate(415.30,384.90) scale(1,0.66)">0</text>
<text x="0" y="0" font-size="7" font-weight="bold" fill="#222" stroke="#222" stroke-width="0.12" transform="translate(418.40,384.90) scale(1,0.66)">10<tspan font-size="7" dx="0.3" dy="-3.6">2</tspan></text>
<text x="0" y="0" font-size="7" font-weight="bold" fill="#222" stroke="#222" stroke-width="0.12" transform="translate(448.50,384.90) scale(1,0.66)">10<tspan font-size="7" dx="0.3" dy="-3.6">3</tspan></text>
<text x="0" y="0" font-size="7" font-weight="bold" fill="#222" stroke="#222" stroke-width="0.12" transform="translate(475.50,384.90) scale(1,0.66)">10<tspan font-size="7" dx="0.3" dy="-3.6">4</tspan></text>
<text x="0" y="0" font-size="7" font-weight="bold" fill="#222" stroke="#222" stroke-width="0.12" transform="translate(502.00,384.90) scale(1,0.66)">10<tspan font-size="7" dx="0.3" dy="-3.6">5</tspan></text>
<line x1="274.20" y1="392.90" x2="375.50" y2="392.90" stroke="#000" stroke-width="1.6" />
<line x1="406.00" y1="392.60" x2="517.00" y2="392.60" stroke="#000" stroke-width="1.6" />
<text x="392.30" y="396.20" font-size="11.7" font-weight="bold" font-style="normal" text-anchor="middle" fill="#000" stroke="#000" stroke-width="0.2" >Tbet</text>
<text x="0" y="0" font-size="12.8" font-weight="bold" text-anchor="middle" stroke="#000" stroke-width="0.2" transform="translate(284.00,462.60) rotate(-90)">Tbet MFI</text>
<line x1="311.20" y1="430.50" x2="311.20" y2="497.05" stroke="#000" stroke-width="1.3" />
<line x1="308.40" y1="496.40" x2="311.20" y2="496.40" stroke="#000" stroke-width="1.3" />
<text x="308.00" y="499.50" font-size="8.6" font-weight="normal" font-style="normal" text-anchor="end" fill="#000" stroke="#000" stroke-width="0.3" >400</text>
<line x1="308.40" y1="480.12" x2="311.20" y2="480.12" stroke="#000" stroke-width="1.3" />
<text x="308.00" y="483.22" font-size="8.6" font-weight="normal" font-style="normal" text-anchor="end" fill="#000" stroke="#000" stroke-width="0.3" >500</text>
<line x1="308.40" y1="463.85" x2="311.20" y2="463.85" stroke="#000" stroke-width="1.3" />
<text x="308.00" y="466.95" font-size="8.6" font-weight="normal" font-style="normal" text-anchor="end" fill="#000" stroke="#000" stroke-width="0.3" >600</text>
<line x1="308.40" y1="447.57" x2="311.20" y2="447.57" stroke="#000" stroke-width="1.3" />
<text x="308.00" y="450.67" font-size="8.6" font-weight="normal" font-style="normal" text-anchor="end" fill="#000" stroke="#000" stroke-width="0.3" >700</text>
<line x1="308.40" y1="431.30" x2="311.20" y2="431.30" stroke="#000" stroke-width="1.3" />
<text x="308.00" y="434.40" font-size="8.6" font-weight="normal" font-style="normal" text-anchor="end" fill="#000" stroke="#000" stroke-width="0.3" >800</text>
<line x1="310.50" y1="496.40" x2="373.00" y2="496.40" stroke="#000" stroke-width="1.4" />
<line x1="321.85" y1="437.16" x2="321.85" y2="434.88" stroke="#000" stroke-width="1.2" />
<line x1="318.35" y1="434.88" x2="325.35" y2="434.88" stroke="#000" stroke-width="1.3" />
<rect x="314.90" y="437.86" width="13.90" height="58.54" fill="#000" stroke="#000" stroke-width="1.4"/>
<line x1="343.25" y1="463.52" x2="343.25" y2="458.48" stroke="#000" stroke-width="1.2" />
<line x1="339.75" y1="458.48" x2="346.75" y2="458.48" stroke="#000" stroke-width="1.3" />
<rect x="336.70" y="464.22" width="13.10" height="32.18" fill="#fff" stroke="#000" stroke-width="1.4"/>
<line x1="364.75" y1="450.83" x2="364.75" y2="445.95" stroke="#000" stroke-width="1.2" />
<line x1="361.25" y1="445.95" x2="368.25" y2="445.95" stroke="#000" stroke-width="1.3" />
<rect x="358.20" y="451.53" width="13.10" height="44.87" fill="#888" stroke="#000" stroke-width="1.4"/>
<path d="M322.00,433.60 L322.00,431.80 L343.50,431.80 L343.50,433.60" fill="none" stroke="#000" stroke-width="1.0" />
<text x="333.60" y="434.00" font-size="13" font-weight="normal" font-style="normal" text-anchor="middle" fill="#000" stroke="#000" stroke-width="0.3" letter-spacing="0.6">***</text>
<path d="M321.40,424.70 L321.40,422.90 L363.70,422.90 L363.70,424.70" fill="none" stroke="#000" stroke-width="1.0" />
<text x="342.10" y="424.80" font-size="13" font-weight="normal" font-style="normal" text-anchor="middle" fill="#000" stroke="#000" stroke-width="0.3" >*</text>
<text x="341.80" y="511.70" font-size="11.3" font-weight="bold" font-style="normal" text-anchor="middle" fill="#000" stroke="#000" stroke-width="0.2" >Day 5</text>
<line x1="412.00" y1="431.50" x2="412.00" y2="498.15" stroke="#000" stroke-width="1.3" />
<line x1="409.20" y1="497.50" x2="412.00" y2="497.50" stroke="#000" stroke-width="1.3" />
<text x="408.80" y="500.60" font-size="8.6" font-weight="normal" font-style="normal" text-anchor="end" fill="#000" stroke="#000" stroke-width="0.3" >400</text>
<line x1="409.20" y1="481.25" x2="412.00" y2="481.25" stroke="#000" stroke-width="1.3" />
<text x="408.80" y="484.35" font-size="8.6" font-weight="normal" font-style="normal" text-anchor="end" fill="#000" stroke="#000" stroke-width="0.3" >500</text>
<line x1="409.20" y1="465.00" x2="412.00" y2="465.00" stroke="#000" stroke-width="1.3" />
<text x="408.80" y="468.10" font-size="8.6" font-weight="normal" font-style="normal" text-anchor="end" fill="#000" stroke="#000" stroke-width="0.3" >600</text>
<line x1="409.20" y1="448.75" x2="412.00" y2="448.75" stroke="#000" stroke-width="1.3" />
<text x="408.80" y="451.85" font-size="8.6" font-weight="normal" font-style="normal" text-anchor="end" fill="#000" stroke="#000" stroke-width="0.3" >700</text>
<line x1="409.20" y1="432.50" x2="412.00" y2="432.50" stroke="#000" stroke-width="1.3" />
<text x="408.80" y="435.60" font-size="8.6" font-weight="normal" font-style="normal" text-anchor="end" fill="#000" stroke="#000" stroke-width="0.3" >800</text>
<line x1="411.30" y1="497.50" x2="476.00" y2="497.50" stroke="#000" stroke-width="1.4" />
<line x1="422.50" y1="466.62" x2="422.50" y2="461.43" stroke="#000" stroke-width="1.2" />
<line x1="419.00" y1="461.43" x2="426.00" y2="461.43" stroke="#000" stroke-width="1.3" />
<rect x="415.70" y="467.32" width="13.60" height="30.18" fill="#000" stroke="#000" stroke-width="1.4"/>
<line x1="444.50" y1="485.31" x2="444.50" y2="480.93" stroke="#000" stroke-width="1.2" />
<line x1="441.00" y1="480.93" x2="448.00" y2="480.93" stroke="#000" stroke-width="1.3" />
<rect x="437.70" y="486.01" width="13.60" height="11.49" fill="#fff" stroke="#000" stroke-width="1.4"/>
<line x1="467.00" y1="474.26" x2="467.00" y2="469.23" stroke="#000" stroke-width="1.2" />
<line x1="463.50" y1="469.23" x2="470.50" y2="469.23" stroke="#000" stroke-width="1.3" />
<rect x="460.20" y="474.96" width="13.60" height="22.54" fill="#888" stroke="#000" stroke-width="1.4"/>
<path d="M422.50,459.30 L422.50,457.50 L443.80,457.50 L443.80,459.30" fill="none" stroke="#000" stroke-width="1.0" />
<text x="433.60" y="459.30" font-size="13" font-weight="normal" font-style="normal" text-anchor="middle" fill="#000" stroke="#000" stroke-width="0.3" >*</text>
<text x="443.40" y="512.50" font-size="11.0" font-weight="bold" font-style="normal" text-anchor="middle" fill="#000" stroke="#000" stroke-width="0.2" >Day 7</text>
<rect x="480.50" y="435.30" width="12.00" height="7.00" fill="#000" stroke="#000" stroke-width="1.4"/>
<rect x="480.50" y="447.30" width="12.00" height="6.80" fill="#fff" stroke="#000" stroke-width="1.4"/>
<rect x="480.50" y="459.00" width="12.00" height="7.00" fill="#888" stroke="#000" stroke-width="1.4"/>
<text x="497.60" y="441.60" font-size="8.6" font-weight="bold" font-style="normal" text-anchor="start" fill="#000" stroke="#000" stroke-width="0.2" >WT</text>
<text x="497.60" y="453.90" font-size="8.6" font-weight="bold" font-style="normal" text-anchor="start" fill="#000" stroke="#000" stroke-width="0.2" >CKO</text>
<text x="497.60" y="465.30" font-size="8.6" font-weight="bold" font-style="normal" text-anchor="start" fill="#000" stroke="#000" stroke-width="0.2" >CTg</text>
</g></svg>
</body></html>
